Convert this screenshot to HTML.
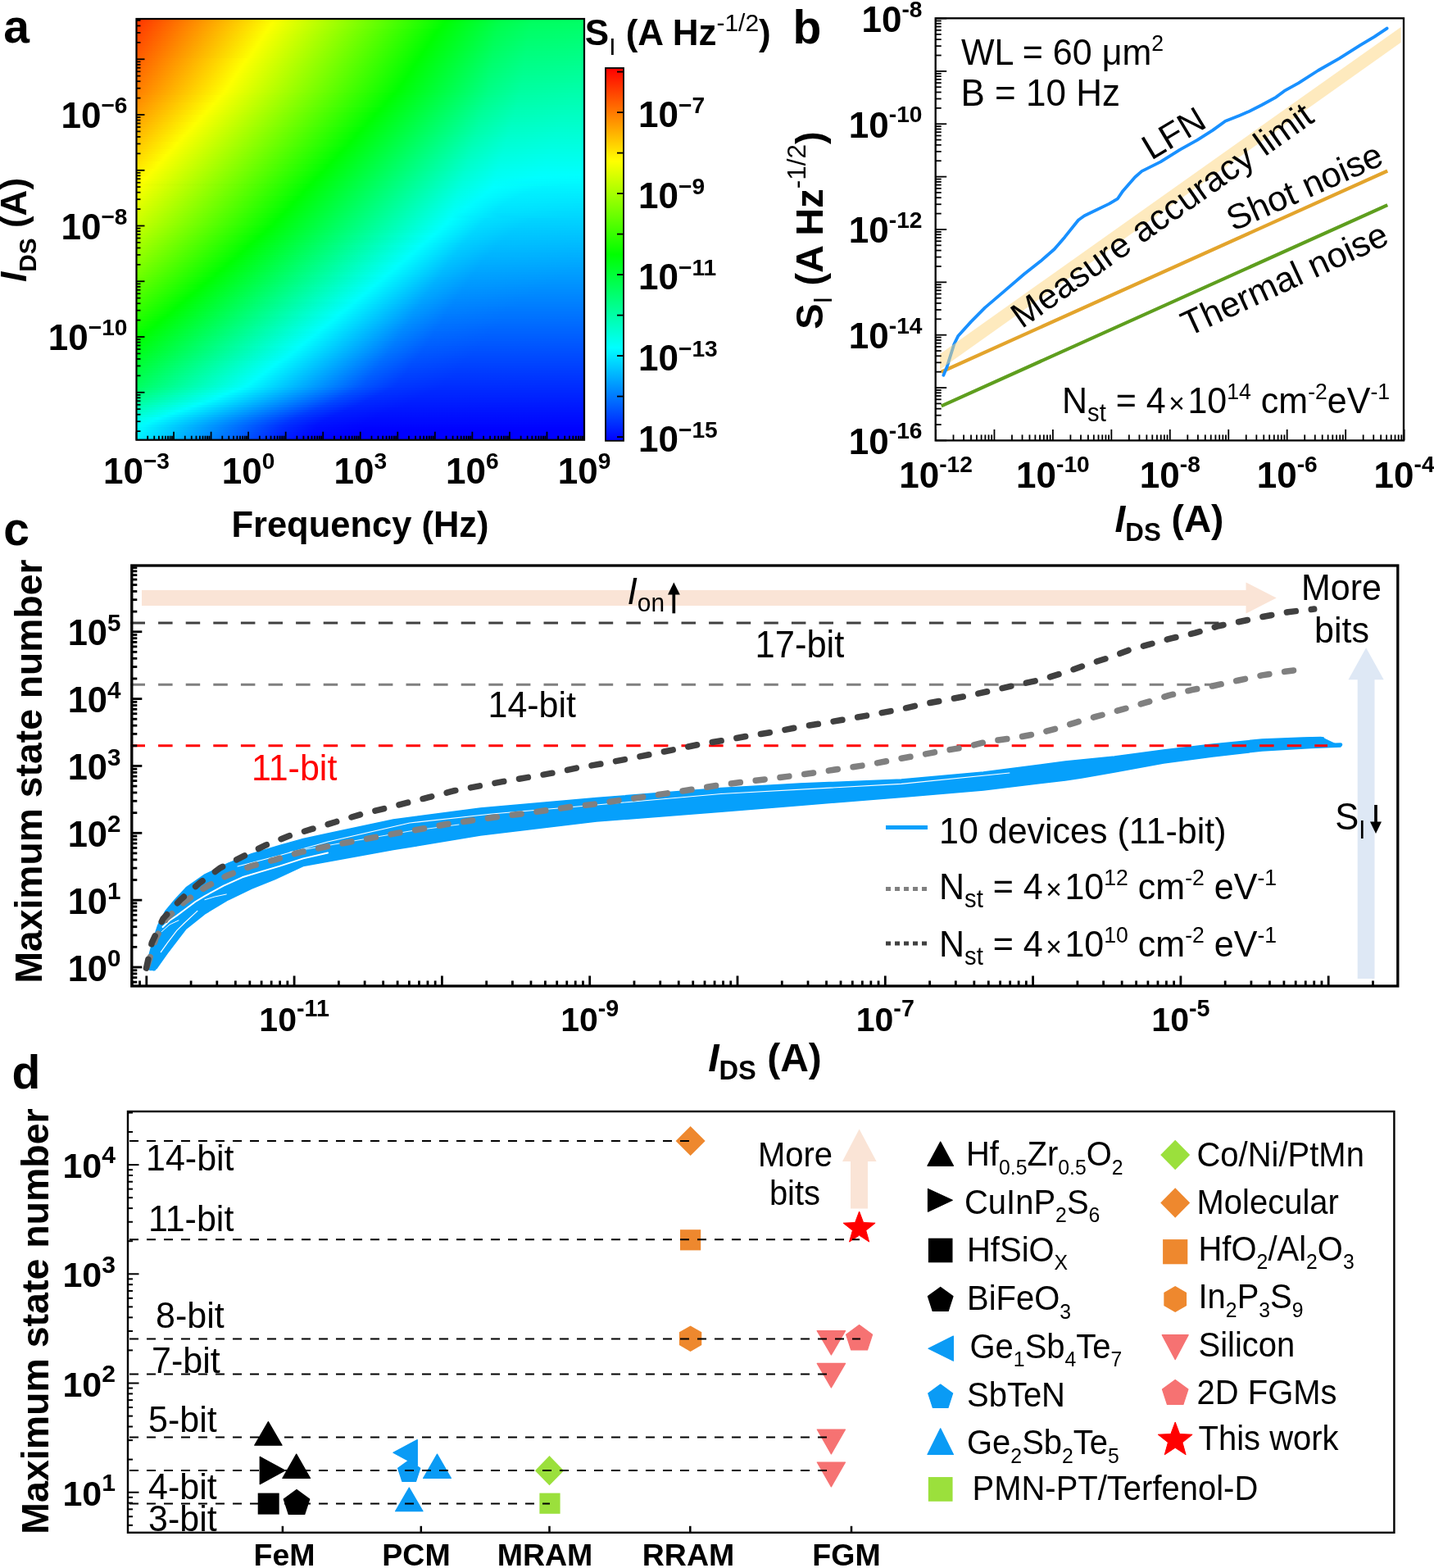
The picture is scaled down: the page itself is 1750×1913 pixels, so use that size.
<!DOCTYPE html><html><head><meta charset="utf-8"><title>Figure</title><style>html,body{margin:0;padding:0;background:#fff;}svg{display:block;}</style></head><body><svg width="1750" height="1913" viewBox="0 0 1750 1913" font-family='"Liberation Sans", Arial, Helvetica, sans-serif'><defs><linearGradient id="h0"><stop offset="0" stop-color="#ff3400"/><stop offset="0.307" stop-color="#fdff00"/><stop offset="0.692" stop-color="#00ff03"/><stop offset="0.809" stop-color="#00ff48"/><stop offset="0.882" stop-color="#00ff5d"/><stop offset="1" stop-color="#00ff63"/></linearGradient><linearGradient id="h1"><stop offset="0" stop-color="#ff3700"/><stop offset="0.304" stop-color="#fdff00"/><stop offset="0.688" stop-color="#00ff03"/><stop offset="0.809" stop-color="#00ff4a"/><stop offset="0.882" stop-color="#00ff60"/><stop offset="1" stop-color="#00ff66"/></linearGradient><linearGradient id="h2"><stop offset="0" stop-color="#ff3900"/><stop offset="0.3" stop-color="#fdff00"/><stop offset="0.684" stop-color="#00ff03"/><stop offset="0.805" stop-color="#00ff4b"/><stop offset="0.878" stop-color="#00ff62"/><stop offset="1" stop-color="#00ff68"/></linearGradient><linearGradient id="h3"><stop offset="0" stop-color="#ff3c00"/><stop offset="0.296" stop-color="#fdff00"/><stop offset="0.681" stop-color="#00ff03"/><stop offset="0.805" stop-color="#00ff4e"/><stop offset="0.878" stop-color="#00ff64"/><stop offset="1" stop-color="#00ff6a"/></linearGradient><linearGradient id="h4"><stop offset="0" stop-color="#ff3e00"/><stop offset="0.293" stop-color="#fdff00"/><stop offset="0.673" stop-color="#00ff01"/><stop offset="0.805" stop-color="#00ff50"/><stop offset="0.878" stop-color="#00ff67"/><stop offset="1" stop-color="#00ff6d"/></linearGradient><linearGradient id="h5"><stop offset="0" stop-color="#ff4100"/><stop offset="0.289" stop-color="#fdff00"/><stop offset="0.67" stop-color="#00ff01"/><stop offset="0.801" stop-color="#00ff51"/><stop offset="0.875" stop-color="#00ff69"/><stop offset="1" stop-color="#00ff6f"/></linearGradient><linearGradient id="h6"><stop offset="0" stop-color="#ff4300"/><stop offset="0.285" stop-color="#fcff00"/><stop offset="0.666" stop-color="#00ff01"/><stop offset="0.801" stop-color="#00ff53"/><stop offset="0.875" stop-color="#00ff6b"/><stop offset="1" stop-color="#00ff72"/></linearGradient><linearGradient id="h7"><stop offset="0" stop-color="#ff4600"/><stop offset="0.282" stop-color="#fcff00"/><stop offset="0.662" stop-color="#00ff01"/><stop offset="0.801" stop-color="#00ff56"/><stop offset="0.875" stop-color="#00ff6d"/><stop offset="1" stop-color="#00ff74"/></linearGradient><linearGradient id="h8"><stop offset="0" stop-color="#ff4800"/><stop offset="0.278" stop-color="#fcff00"/><stop offset="0.659" stop-color="#00ff01"/><stop offset="0.801" stop-color="#00ff58"/><stop offset="0.875" stop-color="#00ff70"/><stop offset="1" stop-color="#00ff77"/></linearGradient><linearGradient id="h9"><stop offset="0" stop-color="#ff4b00"/><stop offset="0.274" stop-color="#fcff00"/><stop offset="0.655" stop-color="#00ff01"/><stop offset="0.798" stop-color="#00ff59"/><stop offset="0.871" stop-color="#00ff72"/><stop offset="1" stop-color="#00ff79"/></linearGradient><linearGradient id="h10"><stop offset="0" stop-color="#ff4d00"/><stop offset="0.271" stop-color="#fcff00"/><stop offset="0.651" stop-color="#00ff01"/><stop offset="0.798" stop-color="#00ff5b"/><stop offset="0.871" stop-color="#00ff74"/><stop offset="1" stop-color="#00ff7c"/></linearGradient><linearGradient id="h11"><stop offset="0" stop-color="#ff5000"/><stop offset="0.267" stop-color="#fcff00"/><stop offset="0.648" stop-color="#00ff01"/><stop offset="0.798" stop-color="#00ff5e"/><stop offset="0.871" stop-color="#00ff77"/><stop offset="1" stop-color="#00ff7e"/></linearGradient><linearGradient id="h12"><stop offset="0" stop-color="#ff5200"/><stop offset="0.263" stop-color="#fcff00"/><stop offset="0.644" stop-color="#00ff01"/><stop offset="0.798" stop-color="#00ff60"/><stop offset="0.871" stop-color="#00ff79"/><stop offset="1" stop-color="#00ff81"/></linearGradient><linearGradient id="h13"><stop offset="0" stop-color="#ff5500"/><stop offset="0.26" stop-color="#fcff00"/><stop offset="0.64" stop-color="#00ff01"/><stop offset="0.798" stop-color="#00ff63"/><stop offset="0.871" stop-color="#00ff7c"/><stop offset="1" stop-color="#00ff83"/></linearGradient><linearGradient id="h14"><stop offset="0" stop-color="#ff5700"/><stop offset="0.256" stop-color="#fcff00"/><stop offset="0.637" stop-color="#00ff01"/><stop offset="0.794" stop-color="#00ff64"/><stop offset="0.867" stop-color="#00ff7d"/><stop offset="1" stop-color="#00ff85"/></linearGradient><linearGradient id="h15"><stop offset="0" stop-color="#ff5a00"/><stop offset="0.253" stop-color="#fcff00"/><stop offset="0.633" stop-color="#00ff01"/><stop offset="0.794" stop-color="#00ff66"/><stop offset="0.867" stop-color="#00ff80"/><stop offset="1" stop-color="#00ff88"/></linearGradient><linearGradient id="h16"><stop offset="0" stop-color="#ff5c00"/><stop offset="0.245" stop-color="#feff00"/><stop offset="0.629" stop-color="#00ff01"/><stop offset="0.794" stop-color="#00ff69"/><stop offset="0.867" stop-color="#00ff82"/><stop offset="1" stop-color="#00ff8a"/></linearGradient><linearGradient id="h17"><stop offset="0" stop-color="#ff5f00"/><stop offset="0.242" stop-color="#feff00"/><stop offset="0.626" stop-color="#00ff02"/><stop offset="0.794" stop-color="#00ff6b"/><stop offset="0.867" stop-color="#00ff85"/><stop offset="1" stop-color="#00ff8d"/></linearGradient><linearGradient id="h18"><stop offset="0" stop-color="#ff6100"/><stop offset="0.238" stop-color="#feff00"/><stop offset="0.622" stop-color="#00ff02"/><stop offset="0.794" stop-color="#00ff6e"/><stop offset="0.867" stop-color="#00ff87"/><stop offset="1" stop-color="#00ff8f"/></linearGradient><linearGradient id="h19"><stop offset="0" stop-color="#ff6400"/><stop offset="0.234" stop-color="#feff00"/><stop offset="0.618" stop-color="#00ff02"/><stop offset="0.79" stop-color="#00ff6e"/><stop offset="0.864" stop-color="#00ff89"/><stop offset="0.988" stop-color="#00ff92"/><stop offset="1" stop-color="#00ff92"/></linearGradient><linearGradient id="h20"><stop offset="0" stop-color="#ff6600"/><stop offset="0.231" stop-color="#feff00"/><stop offset="0.615" stop-color="#00ff02"/><stop offset="0.79" stop-color="#00ff71"/><stop offset="0.864" stop-color="#00ff8b"/><stop offset="0.988" stop-color="#00ff94"/><stop offset="1" stop-color="#00ff94"/></linearGradient><linearGradient id="h21"><stop offset="0" stop-color="#ff6900"/><stop offset="0.227" stop-color="#feff00"/><stop offset="0.611" stop-color="#00ff02"/><stop offset="0.79" stop-color="#00ff73"/><stop offset="0.864" stop-color="#00ff8e"/><stop offset="0.988" stop-color="#00ff97"/><stop offset="1" stop-color="#00ff97"/></linearGradient><linearGradient id="h22"><stop offset="0" stop-color="#ff6b00"/><stop offset="0.223" stop-color="#feff00"/><stop offset="0.608" stop-color="#00ff02"/><stop offset="0.79" stop-color="#00ff76"/><stop offset="0.864" stop-color="#00ff90"/><stop offset="0.988" stop-color="#00ff99"/><stop offset="1" stop-color="#00ff99"/></linearGradient><linearGradient id="h23"><stop offset="0" stop-color="#ff6e00"/><stop offset="0.22" stop-color="#feff00"/><stop offset="0.604" stop-color="#00ff02"/><stop offset="0.79" stop-color="#00ff78"/><stop offset="0.864" stop-color="#00ff93"/><stop offset="0.988" stop-color="#00ff9c"/><stop offset="1" stop-color="#00ff9c"/></linearGradient><linearGradient id="h24"><stop offset="0" stop-color="#ff7000"/><stop offset="0.216" stop-color="#feff00"/><stop offset="0.6" stop-color="#00ff02"/><stop offset="0.79" stop-color="#00ff7b"/><stop offset="0.864" stop-color="#00ff95"/><stop offset="0.988" stop-color="#00ff9e"/><stop offset="1" stop-color="#00ff9e"/></linearGradient><linearGradient id="h25"><stop offset="0" stop-color="#ff7300"/><stop offset="0.212" stop-color="#feff00"/><stop offset="0.597" stop-color="#00ff02"/><stop offset="0.79" stop-color="#00ff7d"/><stop offset="0.864" stop-color="#00ff98"/><stop offset="0.988" stop-color="#00ffa0"/><stop offset="1" stop-color="#00ffa1"/></linearGradient><linearGradient id="h26"><stop offset="0" stop-color="#ff7500"/><stop offset="0.209" stop-color="#feff00"/><stop offset="0.593" stop-color="#00ff02"/><stop offset="0.787" stop-color="#00ff7e"/><stop offset="0.86" stop-color="#00ff9a"/><stop offset="0.977" stop-color="#00ffa3"/><stop offset="1" stop-color="#00ffa3"/></linearGradient><linearGradient id="h27"><stop offset="0" stop-color="#ff7800"/><stop offset="0.205" stop-color="#feff00"/><stop offset="0.589" stop-color="#00ff02"/><stop offset="0.787" stop-color="#00ff80"/><stop offset="0.86" stop-color="#00ff9c"/><stop offset="0.977" stop-color="#00ffa5"/><stop offset="1" stop-color="#00ffa5"/></linearGradient><linearGradient id="h28"><stop offset="0" stop-color="#ff7a00"/><stop offset="0.201" stop-color="#feff00"/><stop offset="0.586" stop-color="#00ff02"/><stop offset="0.787" stop-color="#00ff83"/><stop offset="0.86" stop-color="#00ff9e"/><stop offset="0.977" stop-color="#00ffa8"/><stop offset="1" stop-color="#00ffa8"/></linearGradient><linearGradient id="h29"><stop offset="0" stop-color="#ff7d00"/><stop offset="0.198" stop-color="#feff00"/><stop offset="0.582" stop-color="#00ff02"/><stop offset="0.787" stop-color="#00ff85"/><stop offset="0.86" stop-color="#00ffa1"/><stop offset="0.977" stop-color="#00ffaa"/><stop offset="1" stop-color="#00ffaa"/></linearGradient><linearGradient id="h30"><stop offset="0" stop-color="#ff8000"/><stop offset="0.194" stop-color="#fdff00"/><stop offset="0.575" stop-color="#00ff01"/><stop offset="0.783" stop-color="#00ff86"/><stop offset="0.856" stop-color="#00ffa3"/><stop offset="0.97" stop-color="#00ffad"/><stop offset="1" stop-color="#00ffad"/></linearGradient><linearGradient id="h31"><stop offset="0" stop-color="#ff8400"/><stop offset="0.187" stop-color="#feff00"/><stop offset="0.571" stop-color="#00ff02"/><stop offset="0.783" stop-color="#00ff89"/><stop offset="0.856" stop-color="#00ffa6"/><stop offset="0.973" stop-color="#00ffaf"/><stop offset="1" stop-color="#00ffaf"/></linearGradient><linearGradient id="h32"><stop offset="0" stop-color="#ff8700"/><stop offset="0.183" stop-color="#fdff00"/><stop offset="0.567" stop-color="#00ff03"/><stop offset="0.783" stop-color="#00ff8d"/><stop offset="0.856" stop-color="#00ffa8"/><stop offset="0.973" stop-color="#00ffb2"/><stop offset="1" stop-color="#00ffb2"/></linearGradient><linearGradient id="h33"><stop offset="0" stop-color="#ff8a00"/><stop offset="0.179" stop-color="#fcff00"/><stop offset="0.56" stop-color="#00ff01"/><stop offset="0.78" stop-color="#00ff8e"/><stop offset="0.853" stop-color="#00ffaa"/><stop offset="0.966" stop-color="#00ffb4"/><stop offset="1" stop-color="#00ffb4"/></linearGradient><linearGradient id="h34"><stop offset="0" stop-color="#ff8e00"/><stop offset="0.172" stop-color="#feff00"/><stop offset="0.556" stop-color="#00ff02"/><stop offset="0.78" stop-color="#00ff91"/><stop offset="0.853" stop-color="#00ffad"/><stop offset="0.97" stop-color="#00ffb6"/><stop offset="1" stop-color="#00ffb7"/></linearGradient><linearGradient id="h35"><stop offset="0" stop-color="#ff9100"/><stop offset="0.168" stop-color="#fdff00"/><stop offset="0.553" stop-color="#00ff03"/><stop offset="0.776" stop-color="#00ff92"/><stop offset="0.849" stop-color="#00ffaf"/><stop offset="0.962" stop-color="#00ffb9"/><stop offset="1" stop-color="#00ffb9"/></linearGradient><linearGradient id="h36"><stop offset="0" stop-color="#ff9400"/><stop offset="0.165" stop-color="#fcff00"/><stop offset="0.545" stop-color="#00ff01"/><stop offset="0.776" stop-color="#00ff95"/><stop offset="0.849" stop-color="#00ffb2"/><stop offset="0.962" stop-color="#00ffbb"/><stop offset="1" stop-color="#00ffbc"/></linearGradient><linearGradient id="h37"><stop offset="0" stop-color="#ff9800"/><stop offset="0.157" stop-color="#feff00"/><stop offset="0.542" stop-color="#00ff02"/><stop offset="0.772" stop-color="#00ff97"/><stop offset="0.845" stop-color="#00ffb4"/><stop offset="0.955" stop-color="#00ffbe"/><stop offset="1" stop-color="#00ffbe"/></linearGradient><linearGradient id="h38"><stop offset="0" stop-color="#ff9b00"/><stop offset="0.154" stop-color="#fdff00"/><stop offset="0.534" stop-color="#00ff01"/><stop offset="0.772" stop-color="#00ff9a"/><stop offset="0.845" stop-color="#00ffb6"/><stop offset="0.959" stop-color="#00ffc0"/><stop offset="1" stop-color="#00ffc1"/></linearGradient><linearGradient id="h39"><stop offset="0" stop-color="#ff9e00"/><stop offset="0.146" stop-color="#feff00"/><stop offset="0.531" stop-color="#00ff02"/><stop offset="0.769" stop-color="#00ff9b"/><stop offset="0.842" stop-color="#00ffb8"/><stop offset="0.952" stop-color="#00ffc3"/><stop offset="1" stop-color="#00ffc3"/></linearGradient><linearGradient id="h40"><stop offset="0" stop-color="#ffa200"/><stop offset="0.143" stop-color="#fdff00"/><stop offset="0.527" stop-color="#00ff03"/><stop offset="0.769" stop-color="#00ff9e"/><stop offset="0.842" stop-color="#00ffbb"/><stop offset="0.952" stop-color="#00ffc5"/><stop offset="1" stop-color="#00ffc5"/></linearGradient><linearGradient id="h41"><stop offset="0" stop-color="#ffa500"/><stop offset="0.139" stop-color="#fcff00"/><stop offset="0.52" stop-color="#00ff01"/><stop offset="0.765" stop-color="#00ffa0"/><stop offset="0.838" stop-color="#00ffbd"/><stop offset="0.944" stop-color="#00ffc7"/><stop offset="1" stop-color="#00ffc8"/></linearGradient><linearGradient id="h42"><stop offset="0" stop-color="#ffa800"/><stop offset="0.132" stop-color="#feff00"/><stop offset="0.516" stop-color="#00ff02"/><stop offset="0.765" stop-color="#00ffa3"/><stop offset="0.838" stop-color="#00ffc0"/><stop offset="0.948" stop-color="#00ffca"/><stop offset="1" stop-color="#00ffca"/></linearGradient><linearGradient id="h43"><stop offset="0" stop-color="#ffac00"/><stop offset="0.128" stop-color="#fdff00"/><stop offset="0.512" stop-color="#00ff03"/><stop offset="0.765" stop-color="#00ffa6"/><stop offset="0.838" stop-color="#00ffc3"/><stop offset="0.948" stop-color="#00ffcc"/><stop offset="1" stop-color="#00ffcd"/></linearGradient><linearGradient id="h44"><stop offset="0" stop-color="#ffaf00"/><stop offset="0.124" stop-color="#fcff00"/><stop offset="0.505" stop-color="#00ff01"/><stop offset="0.761" stop-color="#00ffa7"/><stop offset="0.834" stop-color="#00ffc5"/><stop offset="0.941" stop-color="#00ffcf"/><stop offset="1" stop-color="#00ffcf"/></linearGradient><linearGradient id="h45"><stop offset="0" stop-color="#ffb300"/><stop offset="0.117" stop-color="#fdff00"/><stop offset="0.501" stop-color="#00ff02"/><stop offset="0.761" stop-color="#00ffaa"/><stop offset="0.834" stop-color="#00ffc7"/><stop offset="0.944" stop-color="#00ffd1"/><stop offset="1" stop-color="#00ffd2"/></linearGradient><linearGradient id="h46"><stop offset="0" stop-color="#ffb600"/><stop offset="0.113" stop-color="#fdff00"/><stop offset="0.494" stop-color="#00ff01"/><stop offset="0.758" stop-color="#00ffab"/><stop offset="0.831" stop-color="#00ffc9"/><stop offset="0.937" stop-color="#00ffd4"/><stop offset="1" stop-color="#00ffd4"/></linearGradient><linearGradient id="h47"><stop offset="0" stop-color="#ffb900"/><stop offset="0.106" stop-color="#feff00"/><stop offset="0.49" stop-color="#00ff02"/><stop offset="0.758" stop-color="#00ffaf"/><stop offset="0.831" stop-color="#00ffcc"/><stop offset="0.937" stop-color="#00ffd6"/><stop offset="1" stop-color="#00ffd7"/></linearGradient><linearGradient id="h48"><stop offset="0" stop-color="#ffbd00"/><stop offset="0.102" stop-color="#fdff00"/><stop offset="0.487" stop-color="#00ff03"/><stop offset="0.754" stop-color="#00ffb0"/><stop offset="0.827" stop-color="#00ffce"/><stop offset="0.93" stop-color="#00ffd8"/><stop offset="1" stop-color="#00ffd9"/></linearGradient><linearGradient id="h49"><stop offset="0" stop-color="#ffc000"/><stop offset="0.099" stop-color="#fcff00"/><stop offset="0.479" stop-color="#00ff01"/><stop offset="0.754" stop-color="#00ffb3"/><stop offset="0.827" stop-color="#00ffd1"/><stop offset="0.933" stop-color="#00ffdb"/><stop offset="1" stop-color="#00ffdc"/></linearGradient><linearGradient id="h50"><stop offset="0" stop-color="#ffc300"/><stop offset="0.091" stop-color="#feff00"/><stop offset="0.476" stop-color="#00ff02"/><stop offset="0.75" stop-color="#00ffb4"/><stop offset="0.823" stop-color="#00ffd3"/><stop offset="0.926" stop-color="#00ffdd"/><stop offset="1" stop-color="#00ffde"/></linearGradient><linearGradient id="h51"><stop offset="0" stop-color="#ffc700"/><stop offset="0.088" stop-color="#fdff00"/><stop offset="0.472" stop-color="#00ff03"/><stop offset="0.75" stop-color="#00ffb7"/><stop offset="0.823" stop-color="#00ffd5"/><stop offset="0.93" stop-color="#00ffe0"/><stop offset="1" stop-color="#00ffe1"/></linearGradient><linearGradient id="h52"><stop offset="0" stop-color="#ffca00"/><stop offset="0.084" stop-color="#fcff00"/><stop offset="0.465" stop-color="#00ff02"/><stop offset="0.75" stop-color="#00ffbb"/><stop offset="0.823" stop-color="#00ffd8"/><stop offset="0.93" stop-color="#00ffe2"/><stop offset="1" stop-color="#00ffe3"/></linearGradient><linearGradient id="h53"><stop offset="0" stop-color="#ffcd00"/><stop offset="0.077" stop-color="#fdff00"/><stop offset="0.461" stop-color="#00ff02"/><stop offset="0.747" stop-color="#00ffbc"/><stop offset="0.82" stop-color="#00ffda"/><stop offset="0.922" stop-color="#00ffe5"/><stop offset="1" stop-color="#00ffe5"/></linearGradient><linearGradient id="h54"><stop offset="0" stop-color="#ffd100"/><stop offset="0.073" stop-color="#fdff00"/><stop offset="0.454" stop-color="#00ff01"/><stop offset="0.747" stop-color="#00ffbf"/><stop offset="0.82" stop-color="#00ffdd"/><stop offset="0.926" stop-color="#00ffe7"/><stop offset="1" stop-color="#00ffe8"/></linearGradient><linearGradient id="h55"><stop offset="0" stop-color="#ffd400"/><stop offset="0.066" stop-color="#feff00"/><stop offset="0.45" stop-color="#00ff02"/><stop offset="0.743" stop-color="#00ffc0"/><stop offset="0.816" stop-color="#00ffdf"/><stop offset="0.919" stop-color="#00ffea"/><stop offset="1" stop-color="#00ffea"/></linearGradient><linearGradient id="h56"><stop offset="0" stop-color="#ffd700"/><stop offset="0.062" stop-color="#fdff00"/><stop offset="0.446" stop-color="#00ff03"/><stop offset="0.743" stop-color="#00ffc3"/><stop offset="0.816" stop-color="#00ffe2"/><stop offset="0.919" stop-color="#00ffec"/><stop offset="1" stop-color="#00ffed"/></linearGradient><linearGradient id="h57"><stop offset="0" stop-color="#ffdb00"/><stop offset="0.059" stop-color="#fcff00"/><stop offset="0.439" stop-color="#00ff01"/><stop offset="0.739" stop-color="#00ffc5"/><stop offset="0.812" stop-color="#00ffe3"/><stop offset="0.911" stop-color="#00ffee"/><stop offset="1" stop-color="#00ffef"/></linearGradient><linearGradient id="h58"><stop offset="0" stop-color="#ffde00"/><stop offset="0.051" stop-color="#feff00"/><stop offset="0.435" stop-color="#00ff02"/><stop offset="0.739" stop-color="#00ffc8"/><stop offset="0.812" stop-color="#00ffe6"/><stop offset="0.915" stop-color="#00fff1"/><stop offset="1" stop-color="#00fff2"/></linearGradient><linearGradient id="h59"><stop offset="0" stop-color="#ffe200"/><stop offset="0.048" stop-color="#fdff00"/><stop offset="0.428" stop-color="#00ff01"/><stop offset="0.739" stop-color="#00ffcb"/><stop offset="0.812" stop-color="#00ffe9"/><stop offset="0.915" stop-color="#00fff3"/><stop offset="1" stop-color="#00fff4"/></linearGradient><linearGradient id="h60"><stop offset="0" stop-color="#ffe500"/><stop offset="0.044" stop-color="#fcff00"/><stop offset="0.425" stop-color="#00ff02"/><stop offset="0.736" stop-color="#00ffcc"/><stop offset="0.809" stop-color="#00ffeb"/><stop offset="0.908" stop-color="#00fff6"/><stop offset="1" stop-color="#00fff7"/></linearGradient><linearGradient id="h61"><stop offset="0" stop-color="#ffe800"/><stop offset="0.037" stop-color="#fdff00"/><stop offset="0.421" stop-color="#00ff03"/><stop offset="0.736" stop-color="#00ffcf"/><stop offset="0.809" stop-color="#00ffee"/><stop offset="0.911" stop-color="#00fff8"/><stop offset="1" stop-color="#00fff9"/></linearGradient><linearGradient id="h62"><stop offset="0" stop-color="#ffec00"/><stop offset="0.033" stop-color="#fcff00"/><stop offset="0.414" stop-color="#00ff01"/><stop offset="0.732" stop-color="#00ffd1"/><stop offset="0.805" stop-color="#00fff0"/><stop offset="0.904" stop-color="#00fffb"/><stop offset="1" stop-color="#00fffc"/></linearGradient><linearGradient id="h63"><stop offset="0" stop-color="#ffef00"/><stop offset="0.029" stop-color="#fbff00"/><stop offset="0.41" stop-color="#00ff02"/><stop offset="0.732" stop-color="#00ffd4"/><stop offset="0.805" stop-color="#00fff2"/><stop offset="0.908" stop-color="#00fffd"/><stop offset="1" stop-color="#00fffe"/></linearGradient><linearGradient id="h64"><stop offset="0" stop-color="#fff300"/><stop offset="0.022" stop-color="#fdff00"/><stop offset="0.403" stop-color="#00ff01"/><stop offset="0.728" stop-color="#00ffd5"/><stop offset="0.801" stop-color="#00fff4"/><stop offset="0.893" stop-color="#00ffff"/><stop offset="1" stop-color="#00fdff"/></linearGradient><linearGradient id="h65"><stop offset="0" stop-color="#fff600"/><stop offset="0.018" stop-color="#fcff00"/><stop offset="0.399" stop-color="#00ff02"/><stop offset="0.728" stop-color="#00ffd8"/><stop offset="0.801" stop-color="#00fff7"/><stop offset="0.871" stop-color="#00fdff"/><stop offset="1" stop-color="#00fbff"/></linearGradient><linearGradient id="h66"><stop offset="0" stop-color="#fff900"/><stop offset="0.018" stop-color="#f8ff00"/><stop offset="0.395" stop-color="#00ff03"/><stop offset="0.728" stop-color="#00ffdc"/><stop offset="0.801" stop-color="#00fffa"/><stop offset="0.864" stop-color="#00fbff"/><stop offset="1" stop-color="#00f9ff"/></linearGradient><linearGradient id="h67"><stop offset="0" stop-color="#fffd00"/><stop offset="0.388" stop-color="#00ff01"/><stop offset="0.725" stop-color="#00ffdd"/><stop offset="0.798" stop-color="#00fffc"/><stop offset="0.959" stop-color="#00f6ff"/><stop offset="1" stop-color="#00f6ff"/></linearGradient><linearGradient id="h68"><stop offset="0" stop-color="#feff00"/><stop offset="0.384" stop-color="#00ff02"/><stop offset="0.725" stop-color="#00ffe0"/><stop offset="0.798" stop-color="#00ffff"/><stop offset="0.904" stop-color="#00f4ff"/><stop offset="1" stop-color="#00f4ff"/></linearGradient><linearGradient id="h69"><stop offset="0" stop-color="#faff00"/><stop offset="0.377" stop-color="#00ff01"/><stop offset="0.721" stop-color="#00ffe2"/><stop offset="0.79" stop-color="#00feff"/><stop offset="0.886" stop-color="#00f2ff"/><stop offset="1" stop-color="#00f1ff"/></linearGradient><linearGradient id="h70"><stop offset="0" stop-color="#f7ff00"/><stop offset="0.373" stop-color="#00ff02"/><stop offset="0.721" stop-color="#00ffe5"/><stop offset="0.783" stop-color="#00feff"/><stop offset="0.871" stop-color="#00f0ff"/><stop offset="1" stop-color="#00efff"/></linearGradient><linearGradient id="h71"><stop offset="0" stop-color="#f3ff00"/><stop offset="0.37" stop-color="#00ff03"/><stop offset="0.717" stop-color="#00ffe6"/><stop offset="0.776" stop-color="#00fdff"/><stop offset="0.86" stop-color="#00eeff"/><stop offset="1" stop-color="#00ecff"/></linearGradient><linearGradient id="h72"><stop offset="0" stop-color="#f0ff00"/><stop offset="0.362" stop-color="#00ff01"/><stop offset="0.717" stop-color="#00ffe9"/><stop offset="0.769" stop-color="#00fdff"/><stop offset="0.849" stop-color="#00edff"/><stop offset="1" stop-color="#00eaff"/></linearGradient><linearGradient id="h73"><stop offset="0" stop-color="#ecff00"/><stop offset="0.359" stop-color="#00ff02"/><stop offset="0.714" stop-color="#00ffeb"/><stop offset="0.761" stop-color="#00fcff"/><stop offset="0.838" stop-color="#00ebff"/><stop offset="1" stop-color="#00e7ff"/></linearGradient><linearGradient id="h74"><stop offset="0" stop-color="#e9ff00"/><stop offset="0.351" stop-color="#00ff01"/><stop offset="0.714" stop-color="#00ffee"/><stop offset="0.754" stop-color="#00fcff"/><stop offset="0.827" stop-color="#00eaff"/><stop offset="1" stop-color="#00e5ff"/></linearGradient><linearGradient id="h75"><stop offset="0" stop-color="#e6ff00"/><stop offset="0.348" stop-color="#00ff02"/><stop offset="0.71" stop-color="#00ffef"/><stop offset="0.747" stop-color="#00fcff"/><stop offset="0.82" stop-color="#00e8ff"/><stop offset="1" stop-color="#00e2ff"/></linearGradient><linearGradient id="h76"><stop offset="0" stop-color="#e2ff00"/><stop offset="0.344" stop-color="#00ff03"/><stop offset="0.71" stop-color="#00fff2"/><stop offset="0.739" stop-color="#00fdff"/><stop offset="0.812" stop-color="#00e6ff"/><stop offset="0.999" stop-color="#00e0ff"/><stop offset="1" stop-color="#00e0ff"/></linearGradient><linearGradient id="h77"><stop offset="0" stop-color="#dfff00"/><stop offset="0.337" stop-color="#00ff01"/><stop offset="0.71" stop-color="#00fff6"/><stop offset="0.736" stop-color="#00fbff"/><stop offset="0.809" stop-color="#00e4ff"/><stop offset="0.981" stop-color="#00deff"/><stop offset="1" stop-color="#00ddff"/></linearGradient><linearGradient id="h78"><stop offset="0" stop-color="#dbff00"/><stop offset="0.333" stop-color="#00ff02"/><stop offset="0.706" stop-color="#00fff7"/><stop offset="0.728" stop-color="#00fcff"/><stop offset="0.801" stop-color="#00e3ff"/><stop offset="0.948" stop-color="#00dbff"/><stop offset="1" stop-color="#00dbff"/></linearGradient><linearGradient id="h79"><stop offset="0" stop-color="#d8ff00"/><stop offset="0.326" stop-color="#00ff01"/><stop offset="0.706" stop-color="#00fffa"/><stop offset="0.732" stop-color="#00f7ff"/><stop offset="0.805" stop-color="#00dfff"/><stop offset="0.973" stop-color="#00d9ff"/><stop offset="1" stop-color="#00d9ff"/></linearGradient><linearGradient id="h80"><stop offset="0" stop-color="#d4ff00"/><stop offset="0.322" stop-color="#00ff02"/><stop offset="0.703" stop-color="#00fffb"/><stop offset="0.743" stop-color="#00efff"/><stop offset="0.816" stop-color="#00dbff"/><stop offset="1" stop-color="#00d6ff"/></linearGradient><linearGradient id="h81"><stop offset="0" stop-color="#d1ff00"/><stop offset="0.315" stop-color="#00ff01"/><stop offset="0.703" stop-color="#00ffff"/><stop offset="0.78" stop-color="#00dfff"/><stop offset="0.882" stop-color="#00d4ff"/><stop offset="1" stop-color="#00d4ff"/></linearGradient><linearGradient id="h82"><stop offset="0" stop-color="#ceff00"/><stop offset="0.311" stop-color="#00ff02"/><stop offset="0.695" stop-color="#00fffe"/><stop offset="0.776" stop-color="#00ddff"/><stop offset="0.875" stop-color="#00d2ff"/><stop offset="1" stop-color="#00d1ff"/></linearGradient><linearGradient id="h83"><stop offset="0" stop-color="#caff00"/><stop offset="0.307" stop-color="#00ff03"/><stop offset="0.692" stop-color="#00ffff"/><stop offset="0.769" stop-color="#00dcff"/><stop offset="0.86" stop-color="#00d0ff"/><stop offset="1" stop-color="#00cfff"/></linearGradient><linearGradient id="h84"><stop offset="0" stop-color="#c6ff00"/><stop offset="0.3" stop-color="#00ff01"/><stop offset="0.684" stop-color="#00fffe"/><stop offset="0.765" stop-color="#00daff"/><stop offset="0.856" stop-color="#00ceff"/><stop offset="1" stop-color="#00ccff"/></linearGradient><linearGradient id="h85"><stop offset="0" stop-color="#c2ff00"/><stop offset="0.293" stop-color="#00ff01"/><stop offset="0.681" stop-color="#00feff"/><stop offset="0.761" stop-color="#00d8ff"/><stop offset="0.849" stop-color="#00cbff"/><stop offset="1" stop-color="#00caff"/></linearGradient><linearGradient id="h86"><stop offset="0" stop-color="#beff00"/><stop offset="0.289" stop-color="#00ff03"/><stop offset="0.673" stop-color="#00feff"/><stop offset="0.754" stop-color="#00d7ff"/><stop offset="0.838" stop-color="#00c9ff"/><stop offset="1" stop-color="#00c7ff"/></linearGradient><linearGradient id="h87"><stop offset="0" stop-color="#baff00"/><stop offset="0.282" stop-color="#00ff02"/><stop offset="0.666" stop-color="#00ffff"/><stop offset="0.75" stop-color="#00d5ff"/><stop offset="0.834" stop-color="#00c7ff"/><stop offset="1" stop-color="#00c5ff"/></linearGradient><linearGradient id="h88"><stop offset="0" stop-color="#b6ff00"/><stop offset="0.274" stop-color="#00ff01"/><stop offset="0.659" stop-color="#00ffff"/><stop offset="0.743" stop-color="#00d4ff"/><stop offset="0.823" stop-color="#00c5ff"/><stop offset="1" stop-color="#00c2ff"/></linearGradient><linearGradient id="h89"><stop offset="0" stop-color="#b1ff00"/><stop offset="0.271" stop-color="#00ff03"/><stop offset="0.655" stop-color="#00fdff"/><stop offset="0.739" stop-color="#00d2ff"/><stop offset="0.82" stop-color="#00c3ff"/><stop offset="1" stop-color="#00c0ff"/></linearGradient><linearGradient id="h90"><stop offset="0" stop-color="#adff00"/><stop offset="0.263" stop-color="#00ff02"/><stop offset="0.648" stop-color="#00feff"/><stop offset="0.736" stop-color="#00d0ff"/><stop offset="0.816" stop-color="#00c0ff"/><stop offset="1" stop-color="#00beff"/></linearGradient><linearGradient id="h91"><stop offset="0" stop-color="#a9ff00"/><stop offset="0.256" stop-color="#00ff02"/><stop offset="0.64" stop-color="#00feff"/><stop offset="0.728" stop-color="#00cfff"/><stop offset="0.805" stop-color="#00bfff"/><stop offset="1" stop-color="#00bbff"/></linearGradient><linearGradient id="h92"><stop offset="0" stop-color="#a5ff00"/><stop offset="0.249" stop-color="#00ff01"/><stop offset="0.633" stop-color="#00ffff"/><stop offset="0.725" stop-color="#00cdff"/><stop offset="0.801" stop-color="#00bcff"/><stop offset="1" stop-color="#00b9ff"/></linearGradient><linearGradient id="h93"><stop offset="0" stop-color="#a1ff00"/><stop offset="0.245" stop-color="#00ff03"/><stop offset="0.629" stop-color="#00fdff"/><stop offset="0.721" stop-color="#00cbff"/><stop offset="0.798" stop-color="#00baff"/><stop offset="1" stop-color="#00b6ff"/></linearGradient><linearGradient id="h94"><stop offset="0" stop-color="#9cff00"/><stop offset="0.238" stop-color="#00ff02"/><stop offset="0.622" stop-color="#00fdff"/><stop offset="0.717" stop-color="#00c9ff"/><stop offset="0.794" stop-color="#00b8ff"/><stop offset="1" stop-color="#00b4ff"/></linearGradient><linearGradient id="h95"><stop offset="0" stop-color="#98ff00"/><stop offset="0.231" stop-color="#00ff01"/><stop offset="0.615" stop-color="#00feff"/><stop offset="0.714" stop-color="#00c7ff"/><stop offset="0.79" stop-color="#00b5ff"/><stop offset="1" stop-color="#00b1ff"/></linearGradient><linearGradient id="h96"><stop offset="0" stop-color="#94ff00"/><stop offset="0.227" stop-color="#00ff03"/><stop offset="0.608" stop-color="#00feff"/><stop offset="0.706" stop-color="#00c7ff"/><stop offset="0.78" stop-color="#00b4ff"/><stop offset="1" stop-color="#00afff"/></linearGradient><linearGradient id="h97"><stop offset="0" stop-color="#90ff00"/><stop offset="0.22" stop-color="#00ff02"/><stop offset="0.604" stop-color="#00fdff"/><stop offset="0.706" stop-color="#00c3ff"/><stop offset="0.78" stop-color="#00b1ff"/><stop offset="1" stop-color="#00acff"/></linearGradient><linearGradient id="h98"><stop offset="0" stop-color="#8cff00"/><stop offset="0.212" stop-color="#00ff02"/><stop offset="0.597" stop-color="#00fdff"/><stop offset="0.699" stop-color="#00c3ff"/><stop offset="0.772" stop-color="#00afff"/><stop offset="1" stop-color="#00aaff"/></linearGradient><linearGradient id="h99"><stop offset="0" stop-color="#87ff00"/><stop offset="0.205" stop-color="#00ff01"/><stop offset="0.589" stop-color="#00feff"/><stop offset="0.695" stop-color="#00c1ff"/><stop offset="0.769" stop-color="#00adff"/><stop offset="1" stop-color="#00a7ff"/></linearGradient><linearGradient id="h100"><stop offset="0" stop-color="#83ff00"/><stop offset="0.201" stop-color="#00ff03"/><stop offset="0.582" stop-color="#00feff"/><stop offset="0.692" stop-color="#00bfff"/><stop offset="0.765" stop-color="#00aaff"/><stop offset="1" stop-color="#00a5ff"/></linearGradient><linearGradient id="h101"><stop offset="0" stop-color="#7fff00"/><stop offset="0.194" stop-color="#00ff02"/><stop offset="0.578" stop-color="#00fdff"/><stop offset="0.688" stop-color="#00bdff"/><stop offset="0.761" stop-color="#00a8ff"/><stop offset="0.988" stop-color="#00a2ff"/><stop offset="1" stop-color="#00a2ff"/></linearGradient><linearGradient id="h102"><stop offset="0" stop-color="#7bff00"/><stop offset="0.187" stop-color="#00ff01"/><stop offset="0.571" stop-color="#00fdff"/><stop offset="0.684" stop-color="#00bbff"/><stop offset="0.758" stop-color="#00a6ff"/><stop offset="0.977" stop-color="#00a0ff"/><stop offset="1" stop-color="#00a0ff"/></linearGradient><linearGradient id="h103"><stop offset="0" stop-color="#77ff00"/><stop offset="0.179" stop-color="#00ff01"/><stop offset="0.564" stop-color="#00feff"/><stop offset="0.681" stop-color="#00b9ff"/><stop offset="0.754" stop-color="#00a3ff"/><stop offset="0.966" stop-color="#009eff"/><stop offset="1" stop-color="#009eff"/></linearGradient><linearGradient id="h104"><stop offset="0" stop-color="#72ff00"/><stop offset="0.176" stop-color="#00ff03"/><stop offset="0.556" stop-color="#00feff"/><stop offset="0.677" stop-color="#00b7ff"/><stop offset="0.75" stop-color="#00a1ff"/><stop offset="0.955" stop-color="#009bff"/><stop offset="1" stop-color="#009bff"/></linearGradient><linearGradient id="h105"><stop offset="0" stop-color="#6eff00"/><stop offset="0.168" stop-color="#00ff02"/><stop offset="0.553" stop-color="#00fcff"/><stop offset="0.673" stop-color="#00b4ff"/><stop offset="0.747" stop-color="#009fff"/><stop offset="0.944" stop-color="#0099ff"/><stop offset="1" stop-color="#0099ff"/></linearGradient><linearGradient id="h106"><stop offset="0" stop-color="#69ff00"/><stop offset="0.161" stop-color="#00ff02"/><stop offset="0.545" stop-color="#00fdff"/><stop offset="0.67" stop-color="#00b2ff"/><stop offset="0.743" stop-color="#009cff"/><stop offset="0.937" stop-color="#0096ff"/><stop offset="1" stop-color="#0096ff"/></linearGradient><linearGradient id="h107"><stop offset="0" stop-color="#65ff00"/><stop offset="0.154" stop-color="#00ff01"/><stop offset="0.538" stop-color="#00fdff"/><stop offset="0.666" stop-color="#00b0ff"/><stop offset="0.739" stop-color="#009aff"/><stop offset="0.926" stop-color="#0094ff"/><stop offset="1" stop-color="#0094ff"/></linearGradient><linearGradient id="h108"><stop offset="0" stop-color="#61ff00"/><stop offset="0.146" stop-color="#00ff01"/><stop offset="0.531" stop-color="#00feff"/><stop offset="0.662" stop-color="#00aeff"/><stop offset="0.736" stop-color="#0098ff"/><stop offset="0.919" stop-color="#0091ff"/><stop offset="1" stop-color="#0091ff"/></linearGradient><linearGradient id="h109"><stop offset="0" stop-color="#5cff00"/><stop offset="0.143" stop-color="#00ff03"/><stop offset="0.523" stop-color="#00feff"/><stop offset="0.655" stop-color="#00aeff"/><stop offset="0.728" stop-color="#0096ff"/><stop offset="0.889" stop-color="#008fff"/><stop offset="1" stop-color="#008fff"/></linearGradient><linearGradient id="h110"><stop offset="0" stop-color="#58ff00"/><stop offset="0.135" stop-color="#00ff02"/><stop offset="0.52" stop-color="#00fcff"/><stop offset="0.655" stop-color="#00aaff"/><stop offset="0.728" stop-color="#0093ff"/><stop offset="0.9" stop-color="#008cff"/><stop offset="1" stop-color="#008cff"/></linearGradient><linearGradient id="h111"><stop offset="0" stop-color="#54ff00"/><stop offset="0.128" stop-color="#00ff02"/><stop offset="0.512" stop-color="#00fdff"/><stop offset="0.651" stop-color="#00a8ff"/><stop offset="0.725" stop-color="#0091ff"/><stop offset="0.893" stop-color="#008aff"/><stop offset="1" stop-color="#008aff"/></linearGradient><linearGradient id="h112"><stop offset="0" stop-color="#4fff00"/><stop offset="0.121" stop-color="#00ff01"/><stop offset="0.505" stop-color="#00fdff"/><stop offset="0.644" stop-color="#00a8ff"/><stop offset="0.717" stop-color="#008fff"/><stop offset="0.867" stop-color="#0088ff"/><stop offset="1" stop-color="#0087ff"/></linearGradient><linearGradient id="h113"><stop offset="0" stop-color="#4bff00"/><stop offset="0.113" stop-color="#00ff01"/><stop offset="0.498" stop-color="#00fdff"/><stop offset="0.64" stop-color="#00a6ff"/><stop offset="0.714" stop-color="#008dff"/><stop offset="0.86" stop-color="#0085ff"/><stop offset="1" stop-color="#0085ff"/></linearGradient><linearGradient id="h114"><stop offset="0" stop-color="#46ff00"/><stop offset="0.11" stop-color="#00ff03"/><stop offset="0.49" stop-color="#00feff"/><stop offset="0.637" stop-color="#00a3ff"/><stop offset="0.71" stop-color="#008aff"/><stop offset="0.853" stop-color="#0083ff"/><stop offset="1" stop-color="#0083ff"/></linearGradient><linearGradient id="h115"><stop offset="0" stop-color="#42ff00"/><stop offset="0.102" stop-color="#00ff02"/><stop offset="0.487" stop-color="#00fcff"/><stop offset="0.637" stop-color="#00a0ff"/><stop offset="0.71" stop-color="#0087ff"/><stop offset="0.864" stop-color="#0080ff"/><stop offset="1" stop-color="#0080ff"/></linearGradient><linearGradient id="h116"><stop offset="0" stop-color="#3eff00"/><stop offset="0.095" stop-color="#00ff02"/><stop offset="0.479" stop-color="#00fcff"/><stop offset="0.633" stop-color="#009dff"/><stop offset="0.706" stop-color="#0085ff"/><stop offset="0.856" stop-color="#007eff"/><stop offset="1" stop-color="#007eff"/></linearGradient><linearGradient id="h117"><stop offset="0" stop-color="#39ff00"/><stop offset="0.088" stop-color="#00ff01"/><stop offset="0.472" stop-color="#00fdff"/><stop offset="0.626" stop-color="#009dff"/><stop offset="0.699" stop-color="#0083ff"/><stop offset="0.834" stop-color="#007bff"/><stop offset="1" stop-color="#007bff"/></linearGradient><linearGradient id="h118"><stop offset="0" stop-color="#35ff00"/><stop offset="0.084" stop-color="#00ff03"/><stop offset="0.465" stop-color="#00fdff"/><stop offset="0.622" stop-color="#009bff"/><stop offset="0.695" stop-color="#0081ff"/><stop offset="0.827" stop-color="#0079ff"/><stop offset="1" stop-color="#0079ff"/></linearGradient><linearGradient id="h119"><stop offset="0" stop-color="#30ff00"/><stop offset="0.077" stop-color="#00ff03"/><stop offset="0.457" stop-color="#00feff"/><stop offset="0.618" stop-color="#0099ff"/><stop offset="0.692" stop-color="#007fff"/><stop offset="0.823" stop-color="#0076ff"/><stop offset="1" stop-color="#0076ff"/></linearGradient><linearGradient id="h120"><stop offset="0" stop-color="#2cff00"/><stop offset="0.07" stop-color="#00ff02"/><stop offset="0.45" stop-color="#00feff"/><stop offset="0.615" stop-color="#0097ff"/><stop offset="0.688" stop-color="#007cff"/><stop offset="0.816" stop-color="#0074ff"/><stop offset="1" stop-color="#0074ff"/></linearGradient><linearGradient id="h121"><stop offset="0" stop-color="#27ff00"/><stop offset="0.062" stop-color="#00ff02"/><stop offset="0.446" stop-color="#00fcff"/><stop offset="0.615" stop-color="#0093ff"/><stop offset="0.688" stop-color="#0079ff"/><stop offset="0.827" stop-color="#0072ff"/><stop offset="1" stop-color="#0071ff"/></linearGradient><linearGradient id="h122"><stop offset="0" stop-color="#23ff00"/><stop offset="0.055" stop-color="#00ff02"/><stop offset="0.439" stop-color="#00fdff"/><stop offset="0.611" stop-color="#0091ff"/><stop offset="0.684" stop-color="#0077ff"/><stop offset="0.82" stop-color="#006fff"/><stop offset="1" stop-color="#006fff"/></linearGradient><linearGradient id="h123"><stop offset="0" stop-color="#1eff00"/><stop offset="0.048" stop-color="#00ff01"/><stop offset="0.432" stop-color="#00fdff"/><stop offset="0.608" stop-color="#008fff"/><stop offset="0.681" stop-color="#0075ff"/><stop offset="0.816" stop-color="#006dff"/><stop offset="1" stop-color="#006cff"/></linearGradient><linearGradient id="h124"><stop offset="0" stop-color="#1aff00"/><stop offset="0.044" stop-color="#00ff03"/><stop offset="0.425" stop-color="#00fdff"/><stop offset="0.604" stop-color="#008cff"/><stop offset="0.677" stop-color="#0072ff"/><stop offset="0.809" stop-color="#006aff"/><stop offset="1" stop-color="#006aff"/></linearGradient><linearGradient id="h125"><stop offset="0" stop-color="#15ff00"/><stop offset="0.037" stop-color="#00ff03"/><stop offset="0.417" stop-color="#00feff"/><stop offset="0.597" stop-color="#008cff"/><stop offset="0.67" stop-color="#0071ff"/><stop offset="0.79" stop-color="#0068ff"/><stop offset="1" stop-color="#0067ff"/></linearGradient><linearGradient id="h126"><stop offset="0" stop-color="#11ff00"/><stop offset="0.029" stop-color="#00ff03"/><stop offset="0.41" stop-color="#00feff"/><stop offset="0.593" stop-color="#008aff"/><stop offset="0.666" stop-color="#006fff"/><stop offset="0.787" stop-color="#0065ff"/><stop offset="1" stop-color="#0065ff"/></linearGradient><linearGradient id="h127"><stop offset="0" stop-color="#0cff00"/><stop offset="0.022" stop-color="#00ff02"/><stop offset="0.406" stop-color="#00fcff"/><stop offset="0.593" stop-color="#0086ff"/><stop offset="0.666" stop-color="#006bff"/><stop offset="0.794" stop-color="#0063ff"/><stop offset="1" stop-color="#0063ff"/></linearGradient><linearGradient id="h128"><stop offset="0" stop-color="#08ff00"/><stop offset="0.018" stop-color="#00ff04"/><stop offset="0.399" stop-color="#00fcff"/><stop offset="0.589" stop-color="#0084ff"/><stop offset="0.662" stop-color="#0069ff"/><stop offset="0.79" stop-color="#0060ff"/><stop offset="1" stop-color="#0060ff"/></linearGradient><linearGradient id="h129"><stop offset="0" stop-color="#03ff00"/><stop offset="0.051" stop-color="#00ff1f"/><stop offset="0.392" stop-color="#00fdff"/><stop offset="0.586" stop-color="#0082ff"/><stop offset="0.659" stop-color="#0067ff"/><stop offset="0.783" stop-color="#005eff"/><stop offset="1" stop-color="#005eff"/></linearGradient><linearGradient id="h130"><stop offset="0" stop-color="#00ff01"/><stop offset="0.384" stop-color="#00fdff"/><stop offset="0.582" stop-color="#0080ff"/><stop offset="0.655" stop-color="#0064ff"/><stop offset="0.78" stop-color="#005cff"/><stop offset="1" stop-color="#005bff"/></linearGradient><linearGradient id="h131"><stop offset="0" stop-color="#00ff06"/><stop offset="0.377" stop-color="#00fdff"/><stop offset="0.578" stop-color="#007dff"/><stop offset="0.651" stop-color="#0062ff"/><stop offset="0.772" stop-color="#0059ff"/><stop offset="1" stop-color="#0059ff"/></linearGradient><linearGradient id="h132"><stop offset="0" stop-color="#00ff0a"/><stop offset="0.37" stop-color="#00feff"/><stop offset="0.575" stop-color="#007bff"/><stop offset="0.648" stop-color="#0060ff"/><stop offset="0.769" stop-color="#0057ff"/><stop offset="1" stop-color="#0056ff"/></linearGradient><linearGradient id="h133"><stop offset="0" stop-color="#00ff0f"/><stop offset="0.362" stop-color="#00feff"/><stop offset="0.571" stop-color="#0079ff"/><stop offset="0.644" stop-color="#005dff"/><stop offset="0.761" stop-color="#0054ff"/><stop offset="1" stop-color="#0054ff"/></linearGradient><linearGradient id="h134"><stop offset="0" stop-color="#00ff13"/><stop offset="0.359" stop-color="#00fcff"/><stop offset="0.567" stop-color="#0077ff"/><stop offset="0.64" stop-color="#005bff"/><stop offset="0.758" stop-color="#0052ff"/><stop offset="1" stop-color="#0051ff"/></linearGradient><linearGradient id="h135"><stop offset="0" stop-color="#00ff18"/><stop offset="0.351" stop-color="#00fcff"/><stop offset="0.564" stop-color="#0075ff"/><stop offset="0.637" stop-color="#0059ff"/><stop offset="0.754" stop-color="#004fff"/><stop offset="1" stop-color="#004fff"/></linearGradient><linearGradient id="h136"><stop offset="0" stop-color="#00ff1d"/><stop offset="0.344" stop-color="#00fcff"/><stop offset="0.56" stop-color="#0072ff"/><stop offset="0.633" stop-color="#0056ff"/><stop offset="0.75" stop-color="#004dff"/><stop offset="1" stop-color="#004cff"/></linearGradient><linearGradient id="h137"><stop offset="0" stop-color="#00ff22"/><stop offset="0.337" stop-color="#00fcff"/><stop offset="0.556" stop-color="#0070ff"/><stop offset="0.629" stop-color="#0054ff"/><stop offset="0.747" stop-color="#004aff"/><stop offset="1" stop-color="#004aff"/></linearGradient><linearGradient id="h138"><stop offset="0" stop-color="#00ff27"/><stop offset="0.329" stop-color="#00fcff"/><stop offset="0.549" stop-color="#006fff"/><stop offset="0.622" stop-color="#0052ff"/><stop offset="0.732" stop-color="#0048ff"/><stop offset="1" stop-color="#0048ff"/></linearGradient><linearGradient id="h139"><stop offset="0" stop-color="#00ff2c"/><stop offset="0.318" stop-color="#00feff"/><stop offset="0.545" stop-color="#006cff"/><stop offset="0.618" stop-color="#0050ff"/><stop offset="0.728" stop-color="#0046ff"/><stop offset="1" stop-color="#0045ff"/></linearGradient><linearGradient id="h140"><stop offset="0" stop-color="#00ff31"/><stop offset="0.311" stop-color="#00feff"/><stop offset="0.542" stop-color="#006aff"/><stop offset="0.615" stop-color="#004dff"/><stop offset="0.725" stop-color="#0043ff"/><stop offset="1" stop-color="#0043ff"/></linearGradient><linearGradient id="h141"><stop offset="0" stop-color="#00ff36"/><stop offset="0.304" stop-color="#00feff"/><stop offset="0.538" stop-color="#0067ff"/><stop offset="0.611" stop-color="#004bff"/><stop offset="0.721" stop-color="#0041ff"/><stop offset="1" stop-color="#0040ff"/></linearGradient><linearGradient id="h142"><stop offset="0" stop-color="#00ff3b"/><stop offset="0.296" stop-color="#00feff"/><stop offset="0.534" stop-color="#0065ff"/><stop offset="0.608" stop-color="#0048ff"/><stop offset="0.717" stop-color="#003eff"/><stop offset="1" stop-color="#003eff"/></linearGradient><linearGradient id="h143"><stop offset="0" stop-color="#00ff40"/><stop offset="0.289" stop-color="#00feff"/><stop offset="0.531" stop-color="#0062ff"/><stop offset="0.604" stop-color="#0046ff"/><stop offset="0.714" stop-color="#003cff"/><stop offset="1" stop-color="#003bff"/></linearGradient><linearGradient id="h144"><stop offset="0" stop-color="#00ff45"/><stop offset="0.282" stop-color="#00feff"/><stop offset="0.527" stop-color="#0060ff"/><stop offset="0.6" stop-color="#0043ff"/><stop offset="0.714" stop-color="#0039ff"/><stop offset="1" stop-color="#0039ff"/></linearGradient><linearGradient id="h145"><stop offset="0" stop-color="#00ff4a"/><stop offset="0.274" stop-color="#00feff"/><stop offset="0.523" stop-color="#005dff"/><stop offset="0.597" stop-color="#0041ff"/><stop offset="0.71" stop-color="#0037ff"/><stop offset="1" stop-color="#0036ff"/></linearGradient><linearGradient id="h146"><stop offset="0" stop-color="#00ff4f"/><stop offset="0.267" stop-color="#00feff"/><stop offset="0.516" stop-color="#005dff"/><stop offset="0.589" stop-color="#003fff"/><stop offset="0.695" stop-color="#0035ff"/><stop offset="1" stop-color="#0034ff"/></linearGradient><linearGradient id="h147"><stop offset="0" stop-color="#00ff54"/><stop offset="0.26" stop-color="#00fdff"/><stop offset="0.512" stop-color="#005aff"/><stop offset="0.586" stop-color="#003dff"/><stop offset="0.692" stop-color="#0032ff"/><stop offset="1" stop-color="#0031ff"/></linearGradient><linearGradient id="h148"><stop offset="0" stop-color="#00ff59"/><stop offset="0.253" stop-color="#00fdff"/><stop offset="0.509" stop-color="#0058ff"/><stop offset="0.582" stop-color="#003aff"/><stop offset="0.688" stop-color="#0030ff"/><stop offset="1" stop-color="#002fff"/></linearGradient><linearGradient id="h149"><stop offset="0" stop-color="#00ff5e"/><stop offset="0.245" stop-color="#00fdff"/><stop offset="0.505" stop-color="#0055ff"/><stop offset="0.578" stop-color="#0038ff"/><stop offset="0.684" stop-color="#002dff"/><stop offset="1" stop-color="#002dff"/></linearGradient><linearGradient id="h150"><stop offset="0" stop-color="#00ff66"/><stop offset="0.231" stop-color="#00feff"/><stop offset="0.494" stop-color="#0053ff"/><stop offset="0.567" stop-color="#0035ff"/><stop offset="0.67" stop-color="#002bff"/><stop offset="1" stop-color="#002aff"/></linearGradient><linearGradient id="h151"><stop offset="0" stop-color="#00ff70"/><stop offset="0.216" stop-color="#00feff"/><stop offset="0.483" stop-color="#0051ff"/><stop offset="0.556" stop-color="#0033ff"/><stop offset="0.659" stop-color="#0028ff"/><stop offset="1" stop-color="#0028ff"/></linearGradient><linearGradient id="h152"><stop offset="0" stop-color="#00ff7a"/><stop offset="0.201" stop-color="#00feff"/><stop offset="0.472" stop-color="#004fff"/><stop offset="0.545" stop-color="#0031ff"/><stop offset="0.648" stop-color="#0026ff"/><stop offset="1" stop-color="#0025ff"/></linearGradient><linearGradient id="h153"><stop offset="0" stop-color="#00ff83"/><stop offset="0.187" stop-color="#00feff"/><stop offset="0.461" stop-color="#004cff"/><stop offset="0.534" stop-color="#002eff"/><stop offset="0.637" stop-color="#0024ff"/><stop offset="1" stop-color="#0023ff"/></linearGradient><linearGradient id="h154"><stop offset="0" stop-color="#00ff8d"/><stop offset="0.176" stop-color="#00fcff"/><stop offset="0.45" stop-color="#004aff"/><stop offset="0.523" stop-color="#002cff"/><stop offset="0.626" stop-color="#0021ff"/><stop offset="1" stop-color="#0020ff"/></linearGradient><linearGradient id="h155"><stop offset="0" stop-color="#00ff97"/><stop offset="0.161" stop-color="#00fcff"/><stop offset="0.439" stop-color="#0048ff"/><stop offset="0.512" stop-color="#0029ff"/><stop offset="0.615" stop-color="#001fff"/><stop offset="1" stop-color="#001eff"/></linearGradient><linearGradient id="h156"><stop offset="0" stop-color="#00ffa1"/><stop offset="0.143" stop-color="#00feff"/><stop offset="0.428" stop-color="#0045ff"/><stop offset="0.501" stop-color="#0027ff"/><stop offset="0.604" stop-color="#001cff"/><stop offset="1" stop-color="#001bff"/></linearGradient><linearGradient id="h157"><stop offset="0" stop-color="#00ffac"/><stop offset="0.128" stop-color="#00fdff"/><stop offset="0.417" stop-color="#0042ff"/><stop offset="0.49" stop-color="#0024ff"/><stop offset="0.597" stop-color="#001aff"/><stop offset="1" stop-color="#0019ff"/></linearGradient><linearGradient id="h158"><stop offset="0" stop-color="#00ffb6"/><stop offset="0.113" stop-color="#00fcff"/><stop offset="0.403" stop-color="#0040ff"/><stop offset="0.476" stop-color="#0022ff"/><stop offset="0.578" stop-color="#0017ff"/><stop offset="1" stop-color="#0016ff"/></linearGradient><linearGradient id="h159"><stop offset="0" stop-color="#00ffc1"/><stop offset="0.095" stop-color="#00feff"/><stop offset="0.392" stop-color="#003dff"/><stop offset="0.465" stop-color="#001fff"/><stop offset="0.567" stop-color="#0015ff"/><stop offset="1" stop-color="#0014ff"/></linearGradient><linearGradient id="h160"><stop offset="0" stop-color="#00ffcb"/><stop offset="0.081" stop-color="#00fdff"/><stop offset="0.377" stop-color="#003cff"/><stop offset="0.45" stop-color="#001dff"/><stop offset="0.549" stop-color="#0012ff"/><stop offset="1" stop-color="#0011ff"/></linearGradient><linearGradient id="h161"><stop offset="0" stop-color="#00ffd6"/><stop offset="0.066" stop-color="#00fcff"/><stop offset="0.366" stop-color="#0039ff"/><stop offset="0.439" stop-color="#001bff"/><stop offset="0.542" stop-color="#0010ff"/><stop offset="1" stop-color="#000fff"/></linearGradient><linearGradient id="h162"><stop offset="0" stop-color="#00ffe1"/><stop offset="0.048" stop-color="#00feff"/><stop offset="0.355" stop-color="#0036ff"/><stop offset="0.428" stop-color="#0018ff"/><stop offset="0.534" stop-color="#000dff"/><stop offset="1" stop-color="#000dff"/></linearGradient><linearGradient id="h163"><stop offset="0" stop-color="#00ffea"/><stop offset="0.037" stop-color="#00fcff"/><stop offset="0.344" stop-color="#0034ff"/><stop offset="0.417" stop-color="#0016ff"/><stop offset="0.52" stop-color="#000bff"/><stop offset="1" stop-color="#000aff"/></linearGradient><linearGradient id="h164"><stop offset="0" stop-color="#00fff2"/><stop offset="0.026" stop-color="#00fbff"/><stop offset="0.333" stop-color="#0033ff"/><stop offset="0.406" stop-color="#0014ff"/><stop offset="0.505" stop-color="#0009ff"/><stop offset="1" stop-color="#0008ff"/></linearGradient><linearGradient id="h165"><stop offset="0" stop-color="#00fffa"/><stop offset="0.018" stop-color="#00f8ff"/><stop offset="0.326" stop-color="#0030ff"/><stop offset="0.399" stop-color="#0011ff"/><stop offset="0.498" stop-color="#0006ff"/><stop offset="1" stop-color="#0005ff"/></linearGradient><linearGradient id="h166"><stop offset="0" stop-color="#00fffd"/><stop offset="0.329" stop-color="#002aff"/><stop offset="0.403" stop-color="#000dff"/><stop offset="0.512" stop-color="#0003ff"/><stop offset="1" stop-color="#0003ff"/></linearGradient><linearGradient id="h167"><stop offset="0" stop-color="#00fdff"/><stop offset="0.322" stop-color="#002bff"/><stop offset="0.395" stop-color="#000cff"/><stop offset="0.494" stop-color="#0001ff"/><stop offset="1" stop-color="#0000ff"/></linearGradient><linearGradient id="h168"><stop offset="0" stop-color="#00f9ff"/><stop offset="0.322" stop-color="#0027ff"/><stop offset="0.395" stop-color="#0009ff"/><stop offset="0.483" stop-color="#0000ff"/><stop offset="1" stop-color="#0000ff"/></linearGradient><linearGradient id="h169"><stop offset="0" stop-color="#00f6ff"/><stop offset="0.318" stop-color="#0026ff"/><stop offset="0.392" stop-color="#0007ff"/><stop offset="0.457" stop-color="#0000ff"/><stop offset="1" stop-color="#0000ff"/></linearGradient><linearGradient id="h170"><stop offset="0" stop-color="#00f2ff"/><stop offset="0.318" stop-color="#0023ff"/><stop offset="0.392" stop-color="#0004ff"/><stop offset="0.457" stop-color="#0000ff"/><stop offset="1" stop-color="#0000ff"/></linearGradient><linearGradient id="h171"><stop offset="0" stop-color="#00f0ff"/><stop offset="0.315" stop-color="#0023ff"/><stop offset="0.388" stop-color="#0004ff"/><stop offset="0.494" stop-color="#0000ff"/><stop offset="1" stop-color="#0000ff"/></linearGradient><linearGradient id="cb" x1="0" y1="0" x2="0" y2="1"><stop offset="0" stop-color="#ff0000"/><stop offset="0.25" stop-color="#ffff00"/><stop offset="0.5" stop-color="#00ff00"/><stop offset="0.75" stop-color="#00ffff"/><stop offset="1" stop-color="#0000ff"/></linearGradient></defs><rect width="100%" height="100%" fill="#fff"/><g shape-rendering="crispEdges"><rect x="166.5" y="23" width="546.5" height="3.6" fill="url(#h0)"/><rect x="166.5" y="26" width="546.5" height="3.6" fill="url(#h1)"/><rect x="166.5" y="29" width="546.5" height="3.6" fill="url(#h2)"/><rect x="166.5" y="32" width="546.5" height="3.6" fill="url(#h3)"/><rect x="166.5" y="35" width="546.5" height="3.6" fill="url(#h4)"/><rect x="166.5" y="38" width="546.5" height="3.6" fill="url(#h5)"/><rect x="166.5" y="41" width="546.5" height="3.6" fill="url(#h6)"/><rect x="166.5" y="44" width="546.5" height="3.6" fill="url(#h7)"/><rect x="166.5" y="47" width="546.5" height="3.6" fill="url(#h8)"/><rect x="166.5" y="50" width="546.5" height="3.6" fill="url(#h9)"/><rect x="166.5" y="53" width="546.5" height="3.6" fill="url(#h10)"/><rect x="166.5" y="56" width="546.5" height="3.6" fill="url(#h11)"/><rect x="166.5" y="59" width="546.5" height="3.6" fill="url(#h12)"/><rect x="166.5" y="62" width="546.5" height="3.6" fill="url(#h13)"/><rect x="166.5" y="65" width="546.5" height="3.6" fill="url(#h14)"/><rect x="166.5" y="68" width="546.5" height="3.6" fill="url(#h15)"/><rect x="166.5" y="71" width="546.5" height="3.6" fill="url(#h16)"/><rect x="166.5" y="74" width="546.5" height="3.6" fill="url(#h17)"/><rect x="166.5" y="77" width="546.5" height="3.6" fill="url(#h18)"/><rect x="166.5" y="80" width="546.5" height="3.6" fill="url(#h19)"/><rect x="166.5" y="83" width="546.5" height="3.6" fill="url(#h20)"/><rect x="166.5" y="86" width="546.5" height="3.6" fill="url(#h21)"/><rect x="166.5" y="89" width="546.5" height="3.6" fill="url(#h22)"/><rect x="166.5" y="92" width="546.5" height="3.6" fill="url(#h23)"/><rect x="166.5" y="95" width="546.5" height="3.6" fill="url(#h24)"/><rect x="166.5" y="98" width="546.5" height="3.6" fill="url(#h25)"/><rect x="166.5" y="101" width="546.5" height="3.6" fill="url(#h26)"/><rect x="166.5" y="104" width="546.5" height="3.6" fill="url(#h27)"/><rect x="166.5" y="107" width="546.5" height="3.6" fill="url(#h28)"/><rect x="166.5" y="110" width="546.5" height="3.6" fill="url(#h29)"/><rect x="166.5" y="113" width="546.5" height="3.6" fill="url(#h30)"/><rect x="166.5" y="116" width="546.5" height="3.6" fill="url(#h31)"/><rect x="166.5" y="119" width="546.5" height="3.6" fill="url(#h32)"/><rect x="166.5" y="122" width="546.5" height="3.6" fill="url(#h33)"/><rect x="166.5" y="125" width="546.5" height="3.6" fill="url(#h34)"/><rect x="166.5" y="128" width="546.5" height="3.6" fill="url(#h35)"/><rect x="166.5" y="131" width="546.5" height="3.6" fill="url(#h36)"/><rect x="166.5" y="134" width="546.5" height="3.6" fill="url(#h37)"/><rect x="166.5" y="137" width="546.5" height="3.6" fill="url(#h38)"/><rect x="166.5" y="140" width="546.5" height="3.6" fill="url(#h39)"/><rect x="166.5" y="143" width="546.5" height="3.6" fill="url(#h40)"/><rect x="166.5" y="146" width="546.5" height="3.6" fill="url(#h41)"/><rect x="166.5" y="149" width="546.5" height="3.6" fill="url(#h42)"/><rect x="166.5" y="152" width="546.5" height="3.6" fill="url(#h43)"/><rect x="166.5" y="155" width="546.5" height="3.6" fill="url(#h44)"/><rect x="166.5" y="158" width="546.5" height="3.6" fill="url(#h45)"/><rect x="166.5" y="161" width="546.5" height="3.6" fill="url(#h46)"/><rect x="166.5" y="164" width="546.5" height="3.6" fill="url(#h47)"/><rect x="166.5" y="167" width="546.5" height="3.6" fill="url(#h48)"/><rect x="166.5" y="170" width="546.5" height="3.6" fill="url(#h49)"/><rect x="166.5" y="173" width="546.5" height="3.6" fill="url(#h50)"/><rect x="166.5" y="176" width="546.5" height="3.6" fill="url(#h51)"/><rect x="166.5" y="179" width="546.5" height="3.6" fill="url(#h52)"/><rect x="166.5" y="182" width="546.5" height="3.6" fill="url(#h53)"/><rect x="166.5" y="185" width="546.5" height="3.6" fill="url(#h54)"/><rect x="166.5" y="188" width="546.5" height="3.6" fill="url(#h55)"/><rect x="166.5" y="191" width="546.5" height="3.6" fill="url(#h56)"/><rect x="166.5" y="194" width="546.5" height="3.6" fill="url(#h57)"/><rect x="166.5" y="197" width="546.5" height="3.6" fill="url(#h58)"/><rect x="166.5" y="200" width="546.5" height="3.6" fill="url(#h59)"/><rect x="166.5" y="203" width="546.5" height="3.6" fill="url(#h60)"/><rect x="166.5" y="206" width="546.5" height="3.6" fill="url(#h61)"/><rect x="166.5" y="209" width="546.5" height="3.6" fill="url(#h62)"/><rect x="166.5" y="212" width="546.5" height="3.6" fill="url(#h63)"/><rect x="166.5" y="215" width="546.5" height="3.6" fill="url(#h64)"/><rect x="166.5" y="218" width="546.5" height="3.6" fill="url(#h65)"/><rect x="166.5" y="221" width="546.5" height="3.6" fill="url(#h66)"/><rect x="166.5" y="224" width="546.5" height="3.6" fill="url(#h67)"/><rect x="166.5" y="227" width="546.5" height="3.6" fill="url(#h68)"/><rect x="166.5" y="230" width="546.5" height="3.6" fill="url(#h69)"/><rect x="166.5" y="233" width="546.5" height="3.6" fill="url(#h70)"/><rect x="166.5" y="236" width="546.5" height="3.6" fill="url(#h71)"/><rect x="166.5" y="239" width="546.5" height="3.6" fill="url(#h72)"/><rect x="166.5" y="242" width="546.5" height="3.6" fill="url(#h73)"/><rect x="166.5" y="245" width="546.5" height="3.6" fill="url(#h74)"/><rect x="166.5" y="248" width="546.5" height="3.6" fill="url(#h75)"/><rect x="166.5" y="251" width="546.5" height="3.6" fill="url(#h76)"/><rect x="166.5" y="254" width="546.5" height="3.6" fill="url(#h77)"/><rect x="166.5" y="257" width="546.5" height="3.6" fill="url(#h78)"/><rect x="166.5" y="260" width="546.5" height="3.6" fill="url(#h79)"/><rect x="166.5" y="263" width="546.5" height="3.6" fill="url(#h80)"/><rect x="166.5" y="266" width="546.5" height="3.6" fill="url(#h81)"/><rect x="166.5" y="269" width="546.5" height="3.6" fill="url(#h82)"/><rect x="166.5" y="272" width="546.5" height="3.6" fill="url(#h83)"/><rect x="166.5" y="275" width="546.5" height="3.6" fill="url(#h84)"/><rect x="166.5" y="278" width="546.5" height="3.6" fill="url(#h85)"/><rect x="166.5" y="281" width="546.5" height="3.6" fill="url(#h86)"/><rect x="166.5" y="284" width="546.5" height="3.6" fill="url(#h87)"/><rect x="166.5" y="287" width="546.5" height="3.6" fill="url(#h88)"/><rect x="166.5" y="290" width="546.5" height="3.6" fill="url(#h89)"/><rect x="166.5" y="293" width="546.5" height="3.6" fill="url(#h90)"/><rect x="166.5" y="296" width="546.5" height="3.6" fill="url(#h91)"/><rect x="166.5" y="299" width="546.5" height="3.6" fill="url(#h92)"/><rect x="166.5" y="302" width="546.5" height="3.6" fill="url(#h93)"/><rect x="166.5" y="305" width="546.5" height="3.6" fill="url(#h94)"/><rect x="166.5" y="308" width="546.5" height="3.6" fill="url(#h95)"/><rect x="166.5" y="311" width="546.5" height="3.6" fill="url(#h96)"/><rect x="166.5" y="314" width="546.5" height="3.6" fill="url(#h97)"/><rect x="166.5" y="317" width="546.5" height="3.6" fill="url(#h98)"/><rect x="166.5" y="320" width="546.5" height="3.6" fill="url(#h99)"/><rect x="166.5" y="323" width="546.5" height="3.6" fill="url(#h100)"/><rect x="166.5" y="326" width="546.5" height="3.6" fill="url(#h101)"/><rect x="166.5" y="329" width="546.5" height="3.6" fill="url(#h102)"/><rect x="166.5" y="332" width="546.5" height="3.6" fill="url(#h103)"/><rect x="166.5" y="335" width="546.5" height="3.6" fill="url(#h104)"/><rect x="166.5" y="338" width="546.5" height="3.6" fill="url(#h105)"/><rect x="166.5" y="341" width="546.5" height="3.6" fill="url(#h106)"/><rect x="166.5" y="344" width="546.5" height="3.6" fill="url(#h107)"/><rect x="166.5" y="347" width="546.5" height="3.6" fill="url(#h108)"/><rect x="166.5" y="350" width="546.5" height="3.6" fill="url(#h109)"/><rect x="166.5" y="353" width="546.5" height="3.6" fill="url(#h110)"/><rect x="166.5" y="356" width="546.5" height="3.6" fill="url(#h111)"/><rect x="166.5" y="359" width="546.5" height="3.6" fill="url(#h112)"/><rect x="166.5" y="362" width="546.5" height="3.6" fill="url(#h113)"/><rect x="166.5" y="365" width="546.5" height="3.6" fill="url(#h114)"/><rect x="166.5" y="368" width="546.5" height="3.6" fill="url(#h115)"/><rect x="166.5" y="371" width="546.5" height="3.6" fill="url(#h116)"/><rect x="166.5" y="374" width="546.5" height="3.6" fill="url(#h117)"/><rect x="166.5" y="377" width="546.5" height="3.6" fill="url(#h118)"/><rect x="166.5" y="380" width="546.5" height="3.6" fill="url(#h119)"/><rect x="166.5" y="383" width="546.5" height="3.6" fill="url(#h120)"/><rect x="166.5" y="386" width="546.5" height="3.6" fill="url(#h121)"/><rect x="166.5" y="389" width="546.5" height="3.6" fill="url(#h122)"/><rect x="166.5" y="392" width="546.5" height="3.6" fill="url(#h123)"/><rect x="166.5" y="395" width="546.5" height="3.6" fill="url(#h124)"/><rect x="166.5" y="398" width="546.5" height="3.6" fill="url(#h125)"/><rect x="166.5" y="401" width="546.5" height="3.6" fill="url(#h126)"/><rect x="166.5" y="404" width="546.5" height="3.6" fill="url(#h127)"/><rect x="166.5" y="407" width="546.5" height="3.6" fill="url(#h128)"/><rect x="166.5" y="410" width="546.5" height="3.6" fill="url(#h129)"/><rect x="166.5" y="413" width="546.5" height="3.6" fill="url(#h130)"/><rect x="166.5" y="416" width="546.5" height="3.6" fill="url(#h131)"/><rect x="166.5" y="419" width="546.5" height="3.6" fill="url(#h132)"/><rect x="166.5" y="422" width="546.5" height="3.6" fill="url(#h133)"/><rect x="166.5" y="425" width="546.5" height="3.6" fill="url(#h134)"/><rect x="166.5" y="428" width="546.5" height="3.6" fill="url(#h135)"/><rect x="166.5" y="431" width="546.5" height="3.6" fill="url(#h136)"/><rect x="166.5" y="434" width="546.5" height="3.6" fill="url(#h137)"/><rect x="166.5" y="437" width="546.5" height="3.6" fill="url(#h138)"/><rect x="166.5" y="440" width="546.5" height="3.6" fill="url(#h139)"/><rect x="166.5" y="443" width="546.5" height="3.6" fill="url(#h140)"/><rect x="166.5" y="446" width="546.5" height="3.6" fill="url(#h141)"/><rect x="166.5" y="449" width="546.5" height="3.6" fill="url(#h142)"/><rect x="166.5" y="452" width="546.5" height="3.6" fill="url(#h143)"/><rect x="166.5" y="455" width="546.5" height="3.6" fill="url(#h144)"/><rect x="166.5" y="458" width="546.5" height="3.6" fill="url(#h145)"/><rect x="166.5" y="461" width="546.5" height="3.6" fill="url(#h146)"/><rect x="166.5" y="464" width="546.5" height="3.6" fill="url(#h147)"/><rect x="166.5" y="467" width="546.5" height="3.6" fill="url(#h148)"/><rect x="166.5" y="470" width="546.5" height="3.6" fill="url(#h149)"/><rect x="166.5" y="473" width="546.5" height="3.6" fill="url(#h150)"/><rect x="166.5" y="476" width="546.5" height="3.6" fill="url(#h151)"/><rect x="166.5" y="479" width="546.5" height="3.6" fill="url(#h152)"/><rect x="166.5" y="482" width="546.5" height="3.6" fill="url(#h153)"/><rect x="166.5" y="485" width="546.5" height="3.6" fill="url(#h154)"/><rect x="166.5" y="488" width="546.5" height="3.6" fill="url(#h155)"/><rect x="166.5" y="491" width="546.5" height="3.6" fill="url(#h156)"/><rect x="166.5" y="494" width="546.5" height="3.6" fill="url(#h157)"/><rect x="166.5" y="497" width="546.5" height="3.6" fill="url(#h158)"/><rect x="166.5" y="500" width="546.5" height="3.6" fill="url(#h159)"/><rect x="166.5" y="503" width="546.5" height="3.6" fill="url(#h160)"/><rect x="166.5" y="506" width="546.5" height="3.6" fill="url(#h161)"/><rect x="166.5" y="509" width="546.5" height="3.6" fill="url(#h162)"/><rect x="166.5" y="512" width="546.5" height="3.6" fill="url(#h163)"/><rect x="166.5" y="515" width="546.5" height="3.6" fill="url(#h164)"/><rect x="166.5" y="518" width="546.5" height="3.6" fill="url(#h165)"/><rect x="166.5" y="521" width="546.5" height="3.6" fill="url(#h166)"/><rect x="166.5" y="524" width="546.5" height="3.6" fill="url(#h167)"/><rect x="166.5" y="527" width="546.5" height="3.6" fill="url(#h168)"/><rect x="166.5" y="530" width="546.5" height="3.6" fill="url(#h169)"/><rect x="166.5" y="533" width="546.5" height="3.6" fill="url(#h170)"/><rect x="166.5" y="536" width="546.5" height="1.3" fill="url(#h171)"/></g><line x1="166.5" y1="536.7" x2="166.5" y2="526.7" stroke="#000" stroke-width="1.8"/><line x1="180.21" y1="536.7" x2="180.21" y2="531.7" stroke="#000" stroke-width="1.8"/><line x1="188.23" y1="536.7" x2="188.23" y2="531.7" stroke="#000" stroke-width="1.8"/><line x1="193.92" y1="536.7" x2="193.92" y2="531.7" stroke="#000" stroke-width="1.8"/><line x1="198.33" y1="536.7" x2="198.33" y2="531.7" stroke="#000" stroke-width="1.8"/><line x1="201.94" y1="536.7" x2="201.94" y2="531.7" stroke="#000" stroke-width="1.8"/><line x1="204.99" y1="536.7" x2="204.99" y2="531.7" stroke="#000" stroke-width="1.8"/><line x1="207.63" y1="536.7" x2="207.63" y2="531.7" stroke="#000" stroke-width="1.8"/><line x1="209.96" y1="536.7" x2="209.96" y2="531.7" stroke="#000" stroke-width="1.8"/><line x1="212.04" y1="536.7" x2="212.04" y2="526.7" stroke="#000" stroke-width="1.8"/><line x1="225.75" y1="536.7" x2="225.75" y2="531.7" stroke="#000" stroke-width="1.8"/><line x1="233.77" y1="536.7" x2="233.77" y2="531.7" stroke="#000" stroke-width="1.8"/><line x1="239.46" y1="536.7" x2="239.46" y2="531.7" stroke="#000" stroke-width="1.8"/><line x1="243.87" y1="536.7" x2="243.87" y2="531.7" stroke="#000" stroke-width="1.8"/><line x1="247.48" y1="536.7" x2="247.48" y2="531.7" stroke="#000" stroke-width="1.8"/><line x1="250.53" y1="536.7" x2="250.53" y2="531.7" stroke="#000" stroke-width="1.8"/><line x1="253.17" y1="536.7" x2="253.17" y2="531.7" stroke="#000" stroke-width="1.8"/><line x1="255.5" y1="536.7" x2="255.5" y2="531.7" stroke="#000" stroke-width="1.8"/><line x1="257.58" y1="536.7" x2="257.58" y2="526.7" stroke="#000" stroke-width="1.8"/><line x1="271.29" y1="536.7" x2="271.29" y2="531.7" stroke="#000" stroke-width="1.8"/><line x1="279.31" y1="536.7" x2="279.31" y2="531.7" stroke="#000" stroke-width="1.8"/><line x1="285" y1="536.7" x2="285" y2="531.7" stroke="#000" stroke-width="1.8"/><line x1="289.42" y1="536.7" x2="289.42" y2="531.7" stroke="#000" stroke-width="1.8"/><line x1="293.02" y1="536.7" x2="293.02" y2="531.7" stroke="#000" stroke-width="1.8"/><line x1="296.07" y1="536.7" x2="296.07" y2="531.7" stroke="#000" stroke-width="1.8"/><line x1="298.71" y1="536.7" x2="298.71" y2="531.7" stroke="#000" stroke-width="1.8"/><line x1="301.04" y1="536.7" x2="301.04" y2="531.7" stroke="#000" stroke-width="1.8"/><line x1="303.12" y1="536.7" x2="303.12" y2="526.7" stroke="#000" stroke-width="1.8"/><line x1="316.83" y1="536.7" x2="316.83" y2="531.7" stroke="#000" stroke-width="1.8"/><line x1="324.85" y1="536.7" x2="324.85" y2="531.7" stroke="#000" stroke-width="1.8"/><line x1="330.54" y1="536.7" x2="330.54" y2="531.7" stroke="#000" stroke-width="1.8"/><line x1="334.96" y1="536.7" x2="334.96" y2="531.7" stroke="#000" stroke-width="1.8"/><line x1="338.56" y1="536.7" x2="338.56" y2="531.7" stroke="#000" stroke-width="1.8"/><line x1="341.61" y1="536.7" x2="341.61" y2="531.7" stroke="#000" stroke-width="1.8"/><line x1="344.25" y1="536.7" x2="344.25" y2="531.7" stroke="#000" stroke-width="1.8"/><line x1="346.58" y1="536.7" x2="346.58" y2="531.7" stroke="#000" stroke-width="1.8"/><line x1="348.67" y1="536.7" x2="348.67" y2="526.7" stroke="#000" stroke-width="1.8"/><line x1="362.38" y1="536.7" x2="362.38" y2="531.7" stroke="#000" stroke-width="1.8"/><line x1="370.4" y1="536.7" x2="370.4" y2="531.7" stroke="#000" stroke-width="1.8"/><line x1="376.09" y1="536.7" x2="376.09" y2="531.7" stroke="#000" stroke-width="1.8"/><line x1="380.5" y1="536.7" x2="380.5" y2="531.7" stroke="#000" stroke-width="1.8"/><line x1="384.1" y1="536.7" x2="384.1" y2="531.7" stroke="#000" stroke-width="1.8"/><line x1="387.15" y1="536.7" x2="387.15" y2="531.7" stroke="#000" stroke-width="1.8"/><line x1="389.79" y1="536.7" x2="389.79" y2="531.7" stroke="#000" stroke-width="1.8"/><line x1="392.12" y1="536.7" x2="392.12" y2="531.7" stroke="#000" stroke-width="1.8"/><line x1="394.21" y1="536.7" x2="394.21" y2="526.7" stroke="#000" stroke-width="1.8"/><line x1="407.92" y1="536.7" x2="407.92" y2="531.7" stroke="#000" stroke-width="1.8"/><line x1="415.94" y1="536.7" x2="415.94" y2="531.7" stroke="#000" stroke-width="1.8"/><line x1="421.63" y1="536.7" x2="421.63" y2="531.7" stroke="#000" stroke-width="1.8"/><line x1="426.04" y1="536.7" x2="426.04" y2="531.7" stroke="#000" stroke-width="1.8"/><line x1="429.65" y1="536.7" x2="429.65" y2="531.7" stroke="#000" stroke-width="1.8"/><line x1="432.7" y1="536.7" x2="432.7" y2="531.7" stroke="#000" stroke-width="1.8"/><line x1="435.34" y1="536.7" x2="435.34" y2="531.7" stroke="#000" stroke-width="1.8"/><line x1="437.67" y1="536.7" x2="437.67" y2="531.7" stroke="#000" stroke-width="1.8"/><line x1="439.75" y1="536.7" x2="439.75" y2="526.7" stroke="#000" stroke-width="1.8"/><line x1="453.46" y1="536.7" x2="453.46" y2="531.7" stroke="#000" stroke-width="1.8"/><line x1="461.48" y1="536.7" x2="461.48" y2="531.7" stroke="#000" stroke-width="1.8"/><line x1="467.17" y1="536.7" x2="467.17" y2="531.7" stroke="#000" stroke-width="1.8"/><line x1="471.58" y1="536.7" x2="471.58" y2="531.7" stroke="#000" stroke-width="1.8"/><line x1="475.19" y1="536.7" x2="475.19" y2="531.7" stroke="#000" stroke-width="1.8"/><line x1="478.24" y1="536.7" x2="478.24" y2="531.7" stroke="#000" stroke-width="1.8"/><line x1="480.88" y1="536.7" x2="480.88" y2="531.7" stroke="#000" stroke-width="1.8"/><line x1="483.21" y1="536.7" x2="483.21" y2="531.7" stroke="#000" stroke-width="1.8"/><line x1="485.29" y1="536.7" x2="485.29" y2="526.7" stroke="#000" stroke-width="1.8"/><line x1="499" y1="536.7" x2="499" y2="531.7" stroke="#000" stroke-width="1.8"/><line x1="507.02" y1="536.7" x2="507.02" y2="531.7" stroke="#000" stroke-width="1.8"/><line x1="512.71" y1="536.7" x2="512.71" y2="531.7" stroke="#000" stroke-width="1.8"/><line x1="517.12" y1="536.7" x2="517.12" y2="531.7" stroke="#000" stroke-width="1.8"/><line x1="520.73" y1="536.7" x2="520.73" y2="531.7" stroke="#000" stroke-width="1.8"/><line x1="523.78" y1="536.7" x2="523.78" y2="531.7" stroke="#000" stroke-width="1.8"/><line x1="526.42" y1="536.7" x2="526.42" y2="531.7" stroke="#000" stroke-width="1.8"/><line x1="528.75" y1="536.7" x2="528.75" y2="531.7" stroke="#000" stroke-width="1.8"/><line x1="530.83" y1="536.7" x2="530.83" y2="526.7" stroke="#000" stroke-width="1.8"/><line x1="544.54" y1="536.7" x2="544.54" y2="531.7" stroke="#000" stroke-width="1.8"/><line x1="552.56" y1="536.7" x2="552.56" y2="531.7" stroke="#000" stroke-width="1.8"/><line x1="558.25" y1="536.7" x2="558.25" y2="531.7" stroke="#000" stroke-width="1.8"/><line x1="562.67" y1="536.7" x2="562.67" y2="531.7" stroke="#000" stroke-width="1.8"/><line x1="566.27" y1="536.7" x2="566.27" y2="531.7" stroke="#000" stroke-width="1.8"/><line x1="569.32" y1="536.7" x2="569.32" y2="531.7" stroke="#000" stroke-width="1.8"/><line x1="571.96" y1="536.7" x2="571.96" y2="531.7" stroke="#000" stroke-width="1.8"/><line x1="574.29" y1="536.7" x2="574.29" y2="531.7" stroke="#000" stroke-width="1.8"/><line x1="576.38" y1="536.7" x2="576.38" y2="526.7" stroke="#000" stroke-width="1.8"/><line x1="590.08" y1="536.7" x2="590.08" y2="531.7" stroke="#000" stroke-width="1.8"/><line x1="598.1" y1="536.7" x2="598.1" y2="531.7" stroke="#000" stroke-width="1.8"/><line x1="603.79" y1="536.7" x2="603.79" y2="531.7" stroke="#000" stroke-width="1.8"/><line x1="608.21" y1="536.7" x2="608.21" y2="531.7" stroke="#000" stroke-width="1.8"/><line x1="611.81" y1="536.7" x2="611.81" y2="531.7" stroke="#000" stroke-width="1.8"/><line x1="614.86" y1="536.7" x2="614.86" y2="531.7" stroke="#000" stroke-width="1.8"/><line x1="617.5" y1="536.7" x2="617.5" y2="531.7" stroke="#000" stroke-width="1.8"/><line x1="619.83" y1="536.7" x2="619.83" y2="531.7" stroke="#000" stroke-width="1.8"/><line x1="621.92" y1="536.7" x2="621.92" y2="526.7" stroke="#000" stroke-width="1.8"/><line x1="635.63" y1="536.7" x2="635.63" y2="531.7" stroke="#000" stroke-width="1.8"/><line x1="643.65" y1="536.7" x2="643.65" y2="531.7" stroke="#000" stroke-width="1.8"/><line x1="649.34" y1="536.7" x2="649.34" y2="531.7" stroke="#000" stroke-width="1.8"/><line x1="653.75" y1="536.7" x2="653.75" y2="531.7" stroke="#000" stroke-width="1.8"/><line x1="657.35" y1="536.7" x2="657.35" y2="531.7" stroke="#000" stroke-width="1.8"/><line x1="660.4" y1="536.7" x2="660.4" y2="531.7" stroke="#000" stroke-width="1.8"/><line x1="663.04" y1="536.7" x2="663.04" y2="531.7" stroke="#000" stroke-width="1.8"/><line x1="665.37" y1="536.7" x2="665.37" y2="531.7" stroke="#000" stroke-width="1.8"/><line x1="667.46" y1="536.7" x2="667.46" y2="526.7" stroke="#000" stroke-width="1.8"/><line x1="681.17" y1="536.7" x2="681.17" y2="531.7" stroke="#000" stroke-width="1.8"/><line x1="689.19" y1="536.7" x2="689.19" y2="531.7" stroke="#000" stroke-width="1.8"/><line x1="694.88" y1="536.7" x2="694.88" y2="531.7" stroke="#000" stroke-width="1.8"/><line x1="699.29" y1="536.7" x2="699.29" y2="531.7" stroke="#000" stroke-width="1.8"/><line x1="702.9" y1="536.7" x2="702.9" y2="531.7" stroke="#000" stroke-width="1.8"/><line x1="705.95" y1="536.7" x2="705.95" y2="531.7" stroke="#000" stroke-width="1.8"/><line x1="708.59" y1="536.7" x2="708.59" y2="531.7" stroke="#000" stroke-width="1.8"/><line x1="710.92" y1="536.7" x2="710.92" y2="531.7" stroke="#000" stroke-width="1.8"/><line x1="713" y1="536.7" x2="713" y2="526.7" stroke="#000" stroke-width="1.8"/><line x1="166.5" y1="526.11" x2="171.5" y2="526.11" stroke="#000" stroke-width="1.8"/><line x1="166.5" y1="514.18" x2="171.5" y2="514.18" stroke="#000" stroke-width="1.8"/><line x1="166.5" y1="505.71" x2="171.5" y2="505.71" stroke="#000" stroke-width="1.8"/><line x1="166.5" y1="499.14" x2="171.5" y2="499.14" stroke="#000" stroke-width="1.8"/><line x1="166.5" y1="493.78" x2="171.5" y2="493.78" stroke="#000" stroke-width="1.8"/><line x1="166.5" y1="489.24" x2="171.5" y2="489.24" stroke="#000" stroke-width="1.8"/><line x1="166.5" y1="485.32" x2="171.5" y2="485.32" stroke="#000" stroke-width="1.8"/><line x1="166.5" y1="481.85" x2="171.5" y2="481.85" stroke="#000" stroke-width="1.8"/><line x1="166.5" y1="478.75" x2="176.5" y2="478.75" stroke="#000" stroke-width="1.8"/><line x1="166.5" y1="458.36" x2="171.5" y2="458.36" stroke="#000" stroke-width="1.8"/><line x1="166.5" y1="446.43" x2="171.5" y2="446.43" stroke="#000" stroke-width="1.8"/><line x1="166.5" y1="437.96" x2="171.5" y2="437.96" stroke="#000" stroke-width="1.8"/><line x1="166.5" y1="431.39" x2="171.5" y2="431.39" stroke="#000" stroke-width="1.8"/><line x1="166.5" y1="426.03" x2="171.5" y2="426.03" stroke="#000" stroke-width="1.8"/><line x1="166.5" y1="421.49" x2="171.5" y2="421.49" stroke="#000" stroke-width="1.8"/><line x1="166.5" y1="417.57" x2="171.5" y2="417.57" stroke="#000" stroke-width="1.8"/><line x1="166.5" y1="414.1" x2="171.5" y2="414.1" stroke="#000" stroke-width="1.8"/><line x1="166.5" y1="411" x2="176.5" y2="411" stroke="#000" stroke-width="1.8"/><line x1="166.5" y1="390.61" x2="171.5" y2="390.61" stroke="#000" stroke-width="1.8"/><line x1="166.5" y1="378.68" x2="171.5" y2="378.68" stroke="#000" stroke-width="1.8"/><line x1="166.5" y1="370.21" x2="171.5" y2="370.21" stroke="#000" stroke-width="1.8"/><line x1="166.5" y1="363.64" x2="171.5" y2="363.64" stroke="#000" stroke-width="1.8"/><line x1="166.5" y1="358.28" x2="171.5" y2="358.28" stroke="#000" stroke-width="1.8"/><line x1="166.5" y1="353.74" x2="171.5" y2="353.74" stroke="#000" stroke-width="1.8"/><line x1="166.5" y1="349.82" x2="171.5" y2="349.82" stroke="#000" stroke-width="1.8"/><line x1="166.5" y1="346.35" x2="171.5" y2="346.35" stroke="#000" stroke-width="1.8"/><line x1="166.5" y1="343.25" x2="176.5" y2="343.25" stroke="#000" stroke-width="1.8"/><line x1="166.5" y1="322.86" x2="171.5" y2="322.86" stroke="#000" stroke-width="1.8"/><line x1="166.5" y1="310.93" x2="171.5" y2="310.93" stroke="#000" stroke-width="1.8"/><line x1="166.5" y1="302.46" x2="171.5" y2="302.46" stroke="#000" stroke-width="1.8"/><line x1="166.5" y1="295.89" x2="171.5" y2="295.89" stroke="#000" stroke-width="1.8"/><line x1="166.5" y1="290.53" x2="171.5" y2="290.53" stroke="#000" stroke-width="1.8"/><line x1="166.5" y1="285.99" x2="171.5" y2="285.99" stroke="#000" stroke-width="1.8"/><line x1="166.5" y1="282.07" x2="171.5" y2="282.07" stroke="#000" stroke-width="1.8"/><line x1="166.5" y1="278.6" x2="171.5" y2="278.6" stroke="#000" stroke-width="1.8"/><line x1="166.5" y1="275.5" x2="176.5" y2="275.5" stroke="#000" stroke-width="1.8"/><line x1="166.5" y1="255.11" x2="171.5" y2="255.11" stroke="#000" stroke-width="1.8"/><line x1="166.5" y1="243.18" x2="171.5" y2="243.18" stroke="#000" stroke-width="1.8"/><line x1="166.5" y1="234.71" x2="171.5" y2="234.71" stroke="#000" stroke-width="1.8"/><line x1="166.5" y1="228.14" x2="171.5" y2="228.14" stroke="#000" stroke-width="1.8"/><line x1="166.5" y1="222.78" x2="171.5" y2="222.78" stroke="#000" stroke-width="1.8"/><line x1="166.5" y1="218.24" x2="171.5" y2="218.24" stroke="#000" stroke-width="1.8"/><line x1="166.5" y1="214.32" x2="171.5" y2="214.32" stroke="#000" stroke-width="1.8"/><line x1="166.5" y1="210.85" x2="171.5" y2="210.85" stroke="#000" stroke-width="1.8"/><line x1="166.5" y1="207.75" x2="176.5" y2="207.75" stroke="#000" stroke-width="1.8"/><line x1="166.5" y1="187.36" x2="171.5" y2="187.36" stroke="#000" stroke-width="1.8"/><line x1="166.5" y1="175.43" x2="171.5" y2="175.43" stroke="#000" stroke-width="1.8"/><line x1="166.5" y1="166.96" x2="171.5" y2="166.96" stroke="#000" stroke-width="1.8"/><line x1="166.5" y1="160.39" x2="171.5" y2="160.39" stroke="#000" stroke-width="1.8"/><line x1="166.5" y1="155.03" x2="171.5" y2="155.03" stroke="#000" stroke-width="1.8"/><line x1="166.5" y1="150.49" x2="171.5" y2="150.49" stroke="#000" stroke-width="1.8"/><line x1="166.5" y1="146.57" x2="171.5" y2="146.57" stroke="#000" stroke-width="1.8"/><line x1="166.5" y1="143.1" x2="171.5" y2="143.1" stroke="#000" stroke-width="1.8"/><line x1="166.5" y1="140" x2="176.5" y2="140" stroke="#000" stroke-width="1.8"/><line x1="166.5" y1="119.61" x2="171.5" y2="119.61" stroke="#000" stroke-width="1.8"/><line x1="166.5" y1="107.68" x2="171.5" y2="107.68" stroke="#000" stroke-width="1.8"/><line x1="166.5" y1="99.21" x2="171.5" y2="99.21" stroke="#000" stroke-width="1.8"/><line x1="166.5" y1="92.64" x2="171.5" y2="92.64" stroke="#000" stroke-width="1.8"/><line x1="166.5" y1="87.28" x2="171.5" y2="87.28" stroke="#000" stroke-width="1.8"/><line x1="166.5" y1="82.74" x2="171.5" y2="82.74" stroke="#000" stroke-width="1.8"/><line x1="166.5" y1="78.82" x2="171.5" y2="78.82" stroke="#000" stroke-width="1.8"/><line x1="166.5" y1="75.35" x2="171.5" y2="75.35" stroke="#000" stroke-width="1.8"/><line x1="166.5" y1="72.25" x2="176.5" y2="72.25" stroke="#000" stroke-width="1.8"/><line x1="166.5" y1="51.86" x2="171.5" y2="51.86" stroke="#000" stroke-width="1.8"/><line x1="166.5" y1="39.93" x2="171.5" y2="39.93" stroke="#000" stroke-width="1.8"/><line x1="166.5" y1="31.46" x2="171.5" y2="31.46" stroke="#000" stroke-width="1.8"/><line x1="166.5" y1="24.89" x2="171.5" y2="24.89" stroke="#000" stroke-width="1.8"/><rect x="166.5" y="23" width="546.5" height="513.7" fill="none" stroke="#000" stroke-width="2.2"/><text x="166.5" y="589.7" font-size="44" font-weight="bold" text-anchor="middle">10<tspan dy="-18.04" font-size="28.16">−3</tspan><tspan dy="18.04"> </tspan></text><text x="303.12" y="589.7" font-size="44" font-weight="bold" text-anchor="middle">10<tspan dy="-18.04" font-size="28.16">0</tspan><tspan dy="18.04"> </tspan></text><text x="439.75" y="589.7" font-size="44" font-weight="bold" text-anchor="middle">10<tspan dy="-18.04" font-size="28.16">3</tspan><tspan dy="18.04"> </tspan></text><text x="576.38" y="589.7" font-size="44" font-weight="bold" text-anchor="middle">10<tspan dy="-18.04" font-size="28.16">6</tspan><tspan dy="18.04"> </tspan></text><text x="713" y="589.7" font-size="44" font-weight="bold" text-anchor="middle">10<tspan dy="-18.04" font-size="28.16">9</tspan><tspan dy="18.04"> </tspan></text><text x="155.5" y="156" font-size="44" font-weight="bold" text-anchor="end">10<tspan dy="-17.6" font-size="28.16">−6</tspan><tspan dy="17.6"> </tspan></text><text x="155.5" y="291.5" font-size="44" font-weight="bold" text-anchor="end">10<tspan dy="-17.6" font-size="28.16">−8</tspan><tspan dy="17.6"> </tspan></text><text x="155.5" y="427" font-size="44" font-weight="bold" text-anchor="end">10<tspan dy="-17.6" font-size="28.16">−10</tspan><tspan dy="17.6"> </tspan></text><text x="439.5" y="655" font-size="43.5" font-weight="bold" text-anchor="middle">Frequency (Hz)</text><text x="32" y="280.5" font-size="44" font-weight="bold" text-anchor="middle" transform="rotate(-90 32 280.5)"><tspan font-style="italic">I</tspan><tspan dy="11.88" font-size="29.92">DS</tspan><tspan dy="-11.88"> (A)</tspan></text><rect x="739" y="83" width="22" height="454.8" fill="url(#cb)"/><line x1="761" y1="533.1" x2="753" y2="533.1" stroke="#000" stroke-width="1.8"/><line x1="761" y1="483.6" x2="753" y2="483.6" stroke="#000" stroke-width="1.8"/><line x1="761" y1="434.1" x2="753" y2="434.1" stroke="#000" stroke-width="1.8"/><line x1="761" y1="384.6" x2="753" y2="384.6" stroke="#000" stroke-width="1.8"/><line x1="761" y1="335.1" x2="753" y2="335.1" stroke="#000" stroke-width="1.8"/><line x1="761" y1="285.6" x2="753" y2="285.6" stroke="#000" stroke-width="1.8"/><line x1="761" y1="236.1" x2="753" y2="236.1" stroke="#000" stroke-width="1.8"/><line x1="761" y1="186.6" x2="753" y2="186.6" stroke="#000" stroke-width="1.8"/><line x1="761" y1="137.1" x2="753" y2="137.1" stroke="#000" stroke-width="1.8"/><line x1="761" y1="87.6" x2="753" y2="87.6" stroke="#000" stroke-width="1.8"/><rect x="739" y="83" width="22" height="454.8" fill="none" stroke="#000" stroke-width="1.8"/><text x="779" y="155.1" font-size="44" font-weight="bold">10<tspan dy="-17.6" font-size="28.16">−7</tspan><tspan dy="17.6"> </tspan></text><text x="779" y="254.1" font-size="44" font-weight="bold">10<tspan dy="-17.6" font-size="28.16">−9</tspan><tspan dy="17.6"> </tspan></text><text x="779" y="353.1" font-size="44" font-weight="bold">10<tspan dy="-17.6" font-size="28.16">−11</tspan><tspan dy="17.6"> </tspan></text><text x="779" y="452.1" font-size="44" font-weight="bold">10<tspan dy="-17.6" font-size="28.16">−13</tspan><tspan dy="17.6"> </tspan></text><text x="779" y="551.1" font-size="44" font-weight="bold">10<tspan dy="-17.6" font-size="28.16">−15</tspan><tspan dy="17.6"> </tspan></text><text x="713.8" y="55.3" font-size="44" font-weight="bold">S<tspan dy="11.22" font-size="29.92" font-weight="normal">I</tspan><tspan dy="-11.22"> (A Hz</tspan><tspan dy="-17.6" font-size="29.92" font-weight="normal">-1/2</tspan><tspan dy="17.6">)</tspan></text><text x="4.3" y="52" font-size="57" font-weight="bold">a</text><text x="967.4" y="52.5" font-size="57" font-weight="bold">b</text><text x="4.2" y="665" font-size="57" font-weight="bold">c</text><text x="14.4" y="1328" font-size="57" font-weight="bold">d</text><line x1="1148.79" y1="453.73" x2="1693.24" y2="208.52" stroke="#E3A42C" stroke-width="4.2"/><line x1="1148.79" y1="495.41" x2="1693.24" y2="250.19" stroke="#5E9E1E" stroke-width="4.2"/><path d="M1151.4 457.7 L1155.7 447.4 L1164.3 420 L1169.4 409.7 L1184.9 392.6 L1202 375.4 L1226 354.9 L1250 334.3 L1270 318.6 L1286.7 304 L1299.3 289.4 L1316 268.5 L1323.3 263.2 L1353.6 248.6 L1364.1 242.3 L1370.4 232.9 L1385 216.2 L1393.4 208.9 L1416.4 197.4 L1440 182.7 L1461.1 170.9 L1480 158.9 L1495.4 147.7 L1512.6 140.9 L1522.9 136.6 L1540 128 L1557.2 118.6 L1567.4 110.9 L1584.6 101.4 L1608.6 86 L1634.3 71.4 L1660 55.1 L1677.2 44.9 L1692.6 34.6" fill="none" stroke="#1890FF" stroke-width="3.8" stroke-linejoin="round" stroke-linecap="round"/><polygon points="1147,432 1709.7,32.9 1709.7,51.7 1147,451" fill="#FDD67D" fill-opacity="0.5"/><line x1="1142" y1="537.4" x2="1142" y2="523.9" stroke="#000" stroke-width="1.8"/><line x1="1163.51" y1="537.4" x2="1163.51" y2="530.4" stroke="#000" stroke-width="1.8"/><line x1="1176.09" y1="537.4" x2="1176.09" y2="530.4" stroke="#000" stroke-width="1.8"/><line x1="1185.02" y1="537.4" x2="1185.02" y2="530.4" stroke="#000" stroke-width="1.8"/><line x1="1191.94" y1="537.4" x2="1191.94" y2="530.4" stroke="#000" stroke-width="1.8"/><line x1="1197.6" y1="537.4" x2="1197.6" y2="530.4" stroke="#000" stroke-width="1.8"/><line x1="1202.38" y1="537.4" x2="1202.38" y2="530.4" stroke="#000" stroke-width="1.8"/><line x1="1206.53" y1="537.4" x2="1206.53" y2="530.4" stroke="#000" stroke-width="1.8"/><line x1="1210.18" y1="537.4" x2="1210.18" y2="530.4" stroke="#000" stroke-width="1.8"/><line x1="1213.45" y1="537.4" x2="1213.45" y2="523.9" stroke="#000" stroke-width="1.8"/><line x1="1234.96" y1="537.4" x2="1234.96" y2="530.4" stroke="#000" stroke-width="1.8"/><line x1="1247.54" y1="537.4" x2="1247.54" y2="530.4" stroke="#000" stroke-width="1.8"/><line x1="1256.47" y1="537.4" x2="1256.47" y2="530.4" stroke="#000" stroke-width="1.8"/><line x1="1263.39" y1="537.4" x2="1263.39" y2="530.4" stroke="#000" stroke-width="1.8"/><line x1="1269.05" y1="537.4" x2="1269.05" y2="530.4" stroke="#000" stroke-width="1.8"/><line x1="1273.83" y1="537.4" x2="1273.83" y2="530.4" stroke="#000" stroke-width="1.8"/><line x1="1277.98" y1="537.4" x2="1277.98" y2="530.4" stroke="#000" stroke-width="1.8"/><line x1="1281.63" y1="537.4" x2="1281.63" y2="530.4" stroke="#000" stroke-width="1.8"/><line x1="1284.9" y1="537.4" x2="1284.9" y2="523.9" stroke="#000" stroke-width="1.8"/><line x1="1306.41" y1="537.4" x2="1306.41" y2="530.4" stroke="#000" stroke-width="1.8"/><line x1="1318.99" y1="537.4" x2="1318.99" y2="530.4" stroke="#000" stroke-width="1.8"/><line x1="1327.92" y1="537.4" x2="1327.92" y2="530.4" stroke="#000" stroke-width="1.8"/><line x1="1334.84" y1="537.4" x2="1334.84" y2="530.4" stroke="#000" stroke-width="1.8"/><line x1="1340.5" y1="537.4" x2="1340.5" y2="530.4" stroke="#000" stroke-width="1.8"/><line x1="1345.28" y1="537.4" x2="1345.28" y2="530.4" stroke="#000" stroke-width="1.8"/><line x1="1349.43" y1="537.4" x2="1349.43" y2="530.4" stroke="#000" stroke-width="1.8"/><line x1="1353.08" y1="537.4" x2="1353.08" y2="530.4" stroke="#000" stroke-width="1.8"/><line x1="1356.35" y1="537.4" x2="1356.35" y2="523.9" stroke="#000" stroke-width="1.8"/><line x1="1377.86" y1="537.4" x2="1377.86" y2="530.4" stroke="#000" stroke-width="1.8"/><line x1="1390.44" y1="537.4" x2="1390.44" y2="530.4" stroke="#000" stroke-width="1.8"/><line x1="1399.37" y1="537.4" x2="1399.37" y2="530.4" stroke="#000" stroke-width="1.8"/><line x1="1406.29" y1="537.4" x2="1406.29" y2="530.4" stroke="#000" stroke-width="1.8"/><line x1="1411.95" y1="537.4" x2="1411.95" y2="530.4" stroke="#000" stroke-width="1.8"/><line x1="1416.73" y1="537.4" x2="1416.73" y2="530.4" stroke="#000" stroke-width="1.8"/><line x1="1420.88" y1="537.4" x2="1420.88" y2="530.4" stroke="#000" stroke-width="1.8"/><line x1="1424.53" y1="537.4" x2="1424.53" y2="530.4" stroke="#000" stroke-width="1.8"/><line x1="1427.8" y1="537.4" x2="1427.8" y2="523.9" stroke="#000" stroke-width="1.8"/><line x1="1449.31" y1="537.4" x2="1449.31" y2="530.4" stroke="#000" stroke-width="1.8"/><line x1="1461.89" y1="537.4" x2="1461.89" y2="530.4" stroke="#000" stroke-width="1.8"/><line x1="1470.82" y1="537.4" x2="1470.82" y2="530.4" stroke="#000" stroke-width="1.8"/><line x1="1477.74" y1="537.4" x2="1477.74" y2="530.4" stroke="#000" stroke-width="1.8"/><line x1="1483.4" y1="537.4" x2="1483.4" y2="530.4" stroke="#000" stroke-width="1.8"/><line x1="1488.18" y1="537.4" x2="1488.18" y2="530.4" stroke="#000" stroke-width="1.8"/><line x1="1492.33" y1="537.4" x2="1492.33" y2="530.4" stroke="#000" stroke-width="1.8"/><line x1="1495.98" y1="537.4" x2="1495.98" y2="530.4" stroke="#000" stroke-width="1.8"/><line x1="1499.25" y1="537.4" x2="1499.25" y2="523.9" stroke="#000" stroke-width="1.8"/><line x1="1520.76" y1="537.4" x2="1520.76" y2="530.4" stroke="#000" stroke-width="1.8"/><line x1="1533.34" y1="537.4" x2="1533.34" y2="530.4" stroke="#000" stroke-width="1.8"/><line x1="1542.27" y1="537.4" x2="1542.27" y2="530.4" stroke="#000" stroke-width="1.8"/><line x1="1549.19" y1="537.4" x2="1549.19" y2="530.4" stroke="#000" stroke-width="1.8"/><line x1="1554.85" y1="537.4" x2="1554.85" y2="530.4" stroke="#000" stroke-width="1.8"/><line x1="1559.63" y1="537.4" x2="1559.63" y2="530.4" stroke="#000" stroke-width="1.8"/><line x1="1563.78" y1="537.4" x2="1563.78" y2="530.4" stroke="#000" stroke-width="1.8"/><line x1="1567.43" y1="537.4" x2="1567.43" y2="530.4" stroke="#000" stroke-width="1.8"/><line x1="1570.7" y1="537.4" x2="1570.7" y2="523.9" stroke="#000" stroke-width="1.8"/><line x1="1592.21" y1="537.4" x2="1592.21" y2="530.4" stroke="#000" stroke-width="1.8"/><line x1="1604.79" y1="537.4" x2="1604.79" y2="530.4" stroke="#000" stroke-width="1.8"/><line x1="1613.72" y1="537.4" x2="1613.72" y2="530.4" stroke="#000" stroke-width="1.8"/><line x1="1620.64" y1="537.4" x2="1620.64" y2="530.4" stroke="#000" stroke-width="1.8"/><line x1="1626.3" y1="537.4" x2="1626.3" y2="530.4" stroke="#000" stroke-width="1.8"/><line x1="1631.08" y1="537.4" x2="1631.08" y2="530.4" stroke="#000" stroke-width="1.8"/><line x1="1635.23" y1="537.4" x2="1635.23" y2="530.4" stroke="#000" stroke-width="1.8"/><line x1="1638.88" y1="537.4" x2="1638.88" y2="530.4" stroke="#000" stroke-width="1.8"/><line x1="1642.15" y1="537.4" x2="1642.15" y2="523.9" stroke="#000" stroke-width="1.8"/><line x1="1663.66" y1="537.4" x2="1663.66" y2="530.4" stroke="#000" stroke-width="1.8"/><line x1="1676.24" y1="537.4" x2="1676.24" y2="530.4" stroke="#000" stroke-width="1.8"/><line x1="1685.17" y1="537.4" x2="1685.17" y2="530.4" stroke="#000" stroke-width="1.8"/><line x1="1692.09" y1="537.4" x2="1692.09" y2="530.4" stroke="#000" stroke-width="1.8"/><line x1="1697.75" y1="537.4" x2="1697.75" y2="530.4" stroke="#000" stroke-width="1.8"/><line x1="1702.53" y1="537.4" x2="1702.53" y2="530.4" stroke="#000" stroke-width="1.8"/><line x1="1706.68" y1="537.4" x2="1706.68" y2="530.4" stroke="#000" stroke-width="1.8"/><line x1="1710.33" y1="537.4" x2="1710.33" y2="530.4" stroke="#000" stroke-width="1.8"/><line x1="1713.6" y1="537.4" x2="1713.6" y2="523.9" stroke="#000" stroke-width="1.8"/><line x1="1141.7" y1="537.4" x2="1155.2" y2="537.4" stroke="#000" stroke-width="1.8"/><line x1="1141.7" y1="518.03" x2="1148.7" y2="518.03" stroke="#000" stroke-width="1.8"/><line x1="1141.7" y1="506.69" x2="1148.7" y2="506.69" stroke="#000" stroke-width="1.8"/><line x1="1141.7" y1="498.65" x2="1148.7" y2="498.65" stroke="#000" stroke-width="1.8"/><line x1="1141.7" y1="492.41" x2="1148.7" y2="492.41" stroke="#000" stroke-width="1.8"/><line x1="1141.7" y1="487.32" x2="1148.7" y2="487.32" stroke="#000" stroke-width="1.8"/><line x1="1141.7" y1="483.01" x2="1148.7" y2="483.01" stroke="#000" stroke-width="1.8"/><line x1="1141.7" y1="479.28" x2="1148.7" y2="479.28" stroke="#000" stroke-width="1.8"/><line x1="1141.7" y1="475.98" x2="1148.7" y2="475.98" stroke="#000" stroke-width="1.8"/><line x1="1141.7" y1="473.04" x2="1155.2" y2="473.04" stroke="#000" stroke-width="1.8"/><line x1="1141.7" y1="453.67" x2="1148.7" y2="453.67" stroke="#000" stroke-width="1.8"/><line x1="1141.7" y1="442.33" x2="1148.7" y2="442.33" stroke="#000" stroke-width="1.8"/><line x1="1141.7" y1="434.29" x2="1148.7" y2="434.29" stroke="#000" stroke-width="1.8"/><line x1="1141.7" y1="428.05" x2="1148.7" y2="428.05" stroke="#000" stroke-width="1.8"/><line x1="1141.7" y1="422.96" x2="1148.7" y2="422.96" stroke="#000" stroke-width="1.8"/><line x1="1141.7" y1="418.65" x2="1148.7" y2="418.65" stroke="#000" stroke-width="1.8"/><line x1="1141.7" y1="414.92" x2="1148.7" y2="414.92" stroke="#000" stroke-width="1.8"/><line x1="1141.7" y1="411.62" x2="1148.7" y2="411.62" stroke="#000" stroke-width="1.8"/><line x1="1141.7" y1="408.68" x2="1155.2" y2="408.68" stroke="#000" stroke-width="1.8"/><line x1="1141.7" y1="389.31" x2="1148.7" y2="389.31" stroke="#000" stroke-width="1.8"/><line x1="1141.7" y1="377.97" x2="1148.7" y2="377.97" stroke="#000" stroke-width="1.8"/><line x1="1141.7" y1="369.93" x2="1148.7" y2="369.93" stroke="#000" stroke-width="1.8"/><line x1="1141.7" y1="363.69" x2="1148.7" y2="363.69" stroke="#000" stroke-width="1.8"/><line x1="1141.7" y1="358.6" x2="1148.7" y2="358.6" stroke="#000" stroke-width="1.8"/><line x1="1141.7" y1="354.29" x2="1148.7" y2="354.29" stroke="#000" stroke-width="1.8"/><line x1="1141.7" y1="350.56" x2="1148.7" y2="350.56" stroke="#000" stroke-width="1.8"/><line x1="1141.7" y1="347.26" x2="1148.7" y2="347.26" stroke="#000" stroke-width="1.8"/><line x1="1141.7" y1="344.32" x2="1155.2" y2="344.32" stroke="#000" stroke-width="1.8"/><line x1="1141.7" y1="324.95" x2="1148.7" y2="324.95" stroke="#000" stroke-width="1.8"/><line x1="1141.7" y1="313.61" x2="1148.7" y2="313.61" stroke="#000" stroke-width="1.8"/><line x1="1141.7" y1="305.57" x2="1148.7" y2="305.57" stroke="#000" stroke-width="1.8"/><line x1="1141.7" y1="299.33" x2="1148.7" y2="299.33" stroke="#000" stroke-width="1.8"/><line x1="1141.7" y1="294.24" x2="1148.7" y2="294.24" stroke="#000" stroke-width="1.8"/><line x1="1141.7" y1="289.93" x2="1148.7" y2="289.93" stroke="#000" stroke-width="1.8"/><line x1="1141.7" y1="286.2" x2="1148.7" y2="286.2" stroke="#000" stroke-width="1.8"/><line x1="1141.7" y1="282.9" x2="1148.7" y2="282.9" stroke="#000" stroke-width="1.8"/><line x1="1141.7" y1="279.96" x2="1155.2" y2="279.96" stroke="#000" stroke-width="1.8"/><line x1="1141.7" y1="260.59" x2="1148.7" y2="260.59" stroke="#000" stroke-width="1.8"/><line x1="1141.7" y1="249.25" x2="1148.7" y2="249.25" stroke="#000" stroke-width="1.8"/><line x1="1141.7" y1="241.21" x2="1148.7" y2="241.21" stroke="#000" stroke-width="1.8"/><line x1="1141.7" y1="234.97" x2="1148.7" y2="234.97" stroke="#000" stroke-width="1.8"/><line x1="1141.7" y1="229.88" x2="1148.7" y2="229.88" stroke="#000" stroke-width="1.8"/><line x1="1141.7" y1="225.57" x2="1148.7" y2="225.57" stroke="#000" stroke-width="1.8"/><line x1="1141.7" y1="221.84" x2="1148.7" y2="221.84" stroke="#000" stroke-width="1.8"/><line x1="1141.7" y1="218.54" x2="1148.7" y2="218.54" stroke="#000" stroke-width="1.8"/><line x1="1141.7" y1="215.6" x2="1155.2" y2="215.6" stroke="#000" stroke-width="1.8"/><line x1="1141.7" y1="196.23" x2="1148.7" y2="196.23" stroke="#000" stroke-width="1.8"/><line x1="1141.7" y1="184.89" x2="1148.7" y2="184.89" stroke="#000" stroke-width="1.8"/><line x1="1141.7" y1="176.85" x2="1148.7" y2="176.85" stroke="#000" stroke-width="1.8"/><line x1="1141.7" y1="170.61" x2="1148.7" y2="170.61" stroke="#000" stroke-width="1.8"/><line x1="1141.7" y1="165.52" x2="1148.7" y2="165.52" stroke="#000" stroke-width="1.8"/><line x1="1141.7" y1="161.21" x2="1148.7" y2="161.21" stroke="#000" stroke-width="1.8"/><line x1="1141.7" y1="157.48" x2="1148.7" y2="157.48" stroke="#000" stroke-width="1.8"/><line x1="1141.7" y1="154.18" x2="1148.7" y2="154.18" stroke="#000" stroke-width="1.8"/><line x1="1141.7" y1="151.24" x2="1155.2" y2="151.24" stroke="#000" stroke-width="1.8"/><line x1="1141.7" y1="131.87" x2="1148.7" y2="131.87" stroke="#000" stroke-width="1.8"/><line x1="1141.7" y1="120.53" x2="1148.7" y2="120.53" stroke="#000" stroke-width="1.8"/><line x1="1141.7" y1="112.49" x2="1148.7" y2="112.49" stroke="#000" stroke-width="1.8"/><line x1="1141.7" y1="106.25" x2="1148.7" y2="106.25" stroke="#000" stroke-width="1.8"/><line x1="1141.7" y1="101.16" x2="1148.7" y2="101.16" stroke="#000" stroke-width="1.8"/><line x1="1141.7" y1="96.85" x2="1148.7" y2="96.85" stroke="#000" stroke-width="1.8"/><line x1="1141.7" y1="93.12" x2="1148.7" y2="93.12" stroke="#000" stroke-width="1.8"/><line x1="1141.7" y1="89.82" x2="1148.7" y2="89.82" stroke="#000" stroke-width="1.8"/><line x1="1141.7" y1="86.88" x2="1155.2" y2="86.88" stroke="#000" stroke-width="1.8"/><line x1="1141.7" y1="67.51" x2="1148.7" y2="67.51" stroke="#000" stroke-width="1.8"/><line x1="1141.7" y1="56.17" x2="1148.7" y2="56.17" stroke="#000" stroke-width="1.8"/><line x1="1141.7" y1="48.13" x2="1148.7" y2="48.13" stroke="#000" stroke-width="1.8"/><line x1="1141.7" y1="41.89" x2="1148.7" y2="41.89" stroke="#000" stroke-width="1.8"/><line x1="1141.7" y1="36.8" x2="1148.7" y2="36.8" stroke="#000" stroke-width="1.8"/><line x1="1141.7" y1="32.49" x2="1148.7" y2="32.49" stroke="#000" stroke-width="1.8"/><line x1="1141.7" y1="28.76" x2="1148.7" y2="28.76" stroke="#000" stroke-width="1.8"/><line x1="1141.7" y1="25.46" x2="1148.7" y2="25.46" stroke="#000" stroke-width="1.8"/><line x1="1141.7" y1="22.52" x2="1155.2" y2="22.52" stroke="#000" stroke-width="1.8"/><rect x="1141.7" y="22.3" width="571.3" height="515.1" fill="none" stroke="#000" stroke-width="2.3"/><text x="1142" y="594.5" font-size="44" font-weight="bold" text-anchor="middle">10<tspan dy="-18.48" font-size="28.16">-12</tspan><tspan dy="18.48"> </tspan></text><text x="1284.9" y="594.5" font-size="44" font-weight="bold" text-anchor="middle">10<tspan dy="-18.48" font-size="28.16">-10</tspan><tspan dy="18.48"> </tspan></text><text x="1427.8" y="594.5" font-size="44" font-weight="bold" text-anchor="middle">10<tspan dy="-18.48" font-size="28.16">-8</tspan><tspan dy="18.48"> </tspan></text><text x="1570.7" y="594.5" font-size="44" font-weight="bold" text-anchor="middle">10<tspan dy="-18.48" font-size="28.16">-6</tspan><tspan dy="18.48"> </tspan></text><text x="1713.6" y="594.5" font-size="44" font-weight="bold" text-anchor="middle">10<tspan dy="-18.48" font-size="28.16">-4</tspan><tspan dy="18.48"> </tspan></text><text x="1125.5" y="39.02" font-size="44" font-weight="bold" text-anchor="end">10<tspan dy="-18.48" font-size="28.16">-8</tspan><tspan dy="18.48"> </tspan></text><text x="1125.5" y="167.74" font-size="44" font-weight="bold" text-anchor="end">10<tspan dy="-18.48" font-size="28.16">-10</tspan><tspan dy="18.48"> </tspan></text><text x="1125.5" y="296.46" font-size="44" font-weight="bold" text-anchor="end">10<tspan dy="-18.48" font-size="28.16">-12</tspan><tspan dy="18.48"> </tspan></text><text x="1125.5" y="425.18" font-size="44" font-weight="bold" text-anchor="end">10<tspan dy="-18.48" font-size="28.16">-14</tspan><tspan dy="18.48"> </tspan></text><text x="1125.5" y="553.9" font-size="44" font-weight="bold" text-anchor="end">10<tspan dy="-18.48" font-size="28.16">-16</tspan><tspan dy="18.48"> </tspan></text><text x="1427" y="649.4" font-size="46" font-weight="bold" text-anchor="middle"><tspan font-style="italic">I</tspan><tspan dy="10.12" font-size="31.28">DS</tspan><tspan dy="-10.12"> (A)</tspan></text><text x="1003.5" y="281" font-size="47" font-weight="bold" text-anchor="middle" transform="rotate(-90 1003.5 281)">S<tspan dy="11.52" font-size="31.49" font-weight="normal">I</tspan><tspan dy="-11.52"> (A Hz</tspan><tspan dy="-20.21" font-size="31.49" font-weight="normal">-1/2</tspan><tspan dy="20.21">)</tspan></text><text x="1173" y="79" font-size="43" transform="translate(1173 79) scale(1 1.045) translate(-1173 -79)">WL = 60 μm<tspan dy="-16.34" font-size="26.66">2</tspan><tspan dy="16.34"> </tspan></text><text x="1172.5" y="129.5" font-size="44" transform="translate(1172.5 129.5) scale(1 1.045) translate(-1172.5 -129.5)">B = 10 Hz</text><text x="1405" y="196" font-size="43" transform="rotate(-31 1405 196)">LFN</text><text x="1247" y="401.5" font-size="43" transform="rotate(-35.3 1247 401.5)">Measure accuracy limit</text><text x="1505" y="282.5" font-size="43" transform="rotate(-24 1505 282.5)">Shot noise</text><text x="1450" y="411" font-size="43" transform="rotate(-24.8 1450 411)">Thermal noise</text><text x="1296" y="504" font-size="43" transform="translate(1296 504) scale(1 1.045) translate(-1296 -504)">N<tspan dy="9.46" font-size="29.24">st</tspan><tspan dy="-9.46"> = 4 </tspan><tspan font-size="33.54">×</tspan> 10<tspan dy="-16.34" font-size="26.66">14</tspan><tspan dy="16.34"> cm</tspan><tspan dy="-16.34" font-size="26.66">-2</tspan><tspan dy="16.34">eV</tspan><tspan dy="-16.34" font-size="26.66">-1</tspan><tspan dy="16.34"> </tspan></text><polygon points="173,720 1520.5,720 1520.5,710.5 1557.7,729.5 1520.5,748.5 1520.5,739 173,739" fill="#FAE4D6"/><polygon points="1656.7,1194 1656.7,829.2 1645.5,829.2 1667.1,790.3 1688.7,829.2 1677.5,829.2 1677.5,1194" fill="#DEE8F5"/><polygon points="179.5,1181 181,1170 182.6,1162.9 187.1,1145.7 192.9,1128.6 202,1111.4 213.4,1097.7 227.1,1082.9 250,1066.9 278.6,1053.1 307.1,1041.7 341.4,1031.4 370,1023.4 422.3,1012.2 480,1000 586.3,986 728,973.5 880,961.4 976,956 1100,951 1200,942 1300,929 1360,923 1420,915 1480,908 1540,902 1590,900 1612,899.5 1636,911 1600,912.5 1540,916 1480,923 1420,931 1360,942 1320,949 1300,952 1200,964 1100,972.5 976,982.5 880,990.3 728,1002 586.3,1019 480,1036.6 432,1045.2 370,1056.6 335.7,1072.6 307.1,1084 278.6,1097.7 250,1114.9 227.1,1133.1 204.3,1162.9 191,1181.5 184,1183.5" fill="#06A0FB" stroke="#06A0FB" stroke-width="1.5" stroke-linejoin="round"/><path d="M1560 904 L1614 901.6" fill="none" stroke="#06A0FB" stroke-width="5" stroke-linecap="round"/><path d="M1560 911 L1636 908.6" fill="none" stroke="#06A0FB" stroke-width="4.6" stroke-linecap="round"/><path d="M180 1175 L183 1181 L188 1182" fill="none" stroke="#06A0FB" stroke-width="5" stroke-linecap="round" stroke-linejoin="round"/><path d="M198.6 1131 L207 1123 L215.7 1117.1 L224.9 1110.3 L238.6 1100 L250 1093.1 L272.9 1080.6 L295.7 1070.3 L318.6 1063.4 L341.4 1056.6 L370 1047.4 L400 1040.5" fill="none" stroke="#ffffff" stroke-width="2" stroke-linecap="round" stroke-linejoin="round"/><path d="M196.3 1161.7 L204.3 1150.3 L215.7 1135.4 L224.9 1126.3 L240.9 1111.4" fill="none" stroke="#ffffff" stroke-width="1.2" stroke-linecap="round"/><path d="M197.4 1136.6 L207 1128 L218 1122.9" fill="none" stroke="#ffffff" stroke-width="1" stroke-linecap="round"/><path d="M250 1097.7 L262 1094 L276.3 1091" fill="none" stroke="#ffffff" stroke-width="1" stroke-linecap="round"/><path d="M290 1057 L340 1044 L400 1027 L500 1004 L600 993 L728 982 L880 968.5 L1100 956.4 L1232 943" fill="none" stroke="#ffffff" stroke-width="1.1" stroke-linecap="round" stroke-linejoin="round"/><path d="M354 1039.5 L420 1028 L500 1014 L560 1006" fill="none" stroke="#ffffff" stroke-width="0.9" stroke-linecap="round"/><line x1="159.5" y1="760" x2="1490" y2="760" stroke="#404040" stroke-width="3" stroke-dasharray="17.5 16.1"/><line x1="159.5" y1="835.3" x2="1483" y2="835.3" stroke="#808080" stroke-width="3" stroke-dasharray="17.5 16.1"/><line x1="159.5" y1="909.8" x2="1620" y2="909.8" stroke="#FF0000" stroke-width="3" stroke-dasharray="17.5 16.1"/><path d="M180 1178 L190 1145 L202.7 1121 L226.1 1099.6 L251.3 1082.1 L276.6 1068.5 L305.7 1056.9 L334.9 1049.1 L364 1040.3 L395.1 1033.5 L424.2 1027.7 L455.3 1021.9 L486.4 1016.1 L511.9 1011.8 L543.8 1005.8 L573.9 1001.2 L604 997 L635.9 993 L666 988.8 L696.1 984.5 L726.2 981 L756.3 976.4 L786.5 972.1 L816.6 967.5 L846.7 962.9 L876.8 958 L906.9 954.1 L937 950.5 L968.9 946.3 L999 942 L1029.1 937.4 L1061 932.8 L1091.1 926.8 L1118.3 922 L1146.7 916.7 L1178.6 911.4 L1206.9 904.3 L1235.3 900.8 L1263.6 895.5 L1288.4 889.1 L1313.2 881.3 L1338 874.2 L1369.9 865.4 L1398.2 857.2 L1426.6 848.4 L1454.9 841.6 L1479.7 837 L1511.6 830 L1540 823.9 L1568.3 819.3 L1596.6 815.8" fill="none" stroke="#808080" stroke-width="7.5" stroke-dasharray="11 19" stroke-linecap="round" stroke-linejoin="round"/><path d="M178.5 1181.2 L185.3 1150.1 L198.9 1121 L220.2 1097.7 L243.5 1077.3 L268.8 1058.8 L296 1045.2 L323.2 1031.6 L352.3 1020 L381.5 1011.2 L410.6 1002.5 L439.8 993.7 L470.9 986 L498 979.1 L522.5 972.9 L554.4 964.7 L586.3 958.7 L614.6 953.4 L646.5 948 L676.6 942.7 L706.7 936.4 L736.9 931.4 L767 925.7 L797 919.7 L827.2 913.7 L857.3 907.3 L887.4 902.7 L915.8 897.4 L947.7 892.4 L976 886.8 L1007.9 881.8 L1038 876.5 L1068.1 871.2 L1098.2 865.5 L1121.9 860 L1153.8 854 L1183.9 848.4 L1214 841.6 L1242.3 835.3 L1270.7 829.2 L1300.8 820 L1327.4 810.5 L1355.7 801.6 L1377 793.4 L1401.8 786.4 L1430.1 778.6 L1458.5 772.2 L1486.8 763.7 L1515.1 758 L1543.5 752 L1571.8 746.7 L1603.7 743.1" fill="none" stroke="#404040" stroke-width="7.5" stroke-dasharray="11 19" stroke-linecap="round" stroke-linejoin="round"/><line x1="161.33" y1="1203" x2="161.33" y2="1196.5" stroke="#000" stroke-width="2.8"/><line x1="170.55" y1="1203" x2="170.55" y2="1196.5" stroke="#000" stroke-width="2.8"/><line x1="178.8" y1="1203" x2="178.8" y2="1190.5" stroke="#000" stroke-width="2.8"/><line x1="233.08" y1="1203" x2="233.08" y2="1196.5" stroke="#000" stroke-width="2.8"/><line x1="264.82" y1="1203" x2="264.82" y2="1196.5" stroke="#000" stroke-width="2.8"/><line x1="287.35" y1="1203" x2="287.35" y2="1196.5" stroke="#000" stroke-width="2.8"/><line x1="304.82" y1="1203" x2="304.82" y2="1196.5" stroke="#000" stroke-width="2.8"/><line x1="319.1" y1="1203" x2="319.1" y2="1196.5" stroke="#000" stroke-width="2.8"/><line x1="331.17" y1="1203" x2="331.17" y2="1196.5" stroke="#000" stroke-width="2.8"/><line x1="341.63" y1="1203" x2="341.63" y2="1196.5" stroke="#000" stroke-width="2.8"/><line x1="350.85" y1="1203" x2="350.85" y2="1196.5" stroke="#000" stroke-width="2.8"/><line x1="359.1" y1="1203" x2="359.1" y2="1190.5" stroke="#000" stroke-width="2.8"/><line x1="413.38" y1="1203" x2="413.38" y2="1196.5" stroke="#000" stroke-width="2.8"/><line x1="445.12" y1="1203" x2="445.12" y2="1196.5" stroke="#000" stroke-width="2.8"/><line x1="467.65" y1="1203" x2="467.65" y2="1196.5" stroke="#000" stroke-width="2.8"/><line x1="485.12" y1="1203" x2="485.12" y2="1196.5" stroke="#000" stroke-width="2.8"/><line x1="499.4" y1="1203" x2="499.4" y2="1196.5" stroke="#000" stroke-width="2.8"/><line x1="511.47" y1="1203" x2="511.47" y2="1196.5" stroke="#000" stroke-width="2.8"/><line x1="521.93" y1="1203" x2="521.93" y2="1196.5" stroke="#000" stroke-width="2.8"/><line x1="531.15" y1="1203" x2="531.15" y2="1196.5" stroke="#000" stroke-width="2.8"/><line x1="539.4" y1="1203" x2="539.4" y2="1190.5" stroke="#000" stroke-width="2.8"/><line x1="593.68" y1="1203" x2="593.68" y2="1196.5" stroke="#000" stroke-width="2.8"/><line x1="625.42" y1="1203" x2="625.42" y2="1196.5" stroke="#000" stroke-width="2.8"/><line x1="647.95" y1="1203" x2="647.95" y2="1196.5" stroke="#000" stroke-width="2.8"/><line x1="665.42" y1="1203" x2="665.42" y2="1196.5" stroke="#000" stroke-width="2.8"/><line x1="679.7" y1="1203" x2="679.7" y2="1196.5" stroke="#000" stroke-width="2.8"/><line x1="691.77" y1="1203" x2="691.77" y2="1196.5" stroke="#000" stroke-width="2.8"/><line x1="702.23" y1="1203" x2="702.23" y2="1196.5" stroke="#000" stroke-width="2.8"/><line x1="711.45" y1="1203" x2="711.45" y2="1196.5" stroke="#000" stroke-width="2.8"/><line x1="719.7" y1="1203" x2="719.7" y2="1190.5" stroke="#000" stroke-width="2.8"/><line x1="773.98" y1="1203" x2="773.98" y2="1196.5" stroke="#000" stroke-width="2.8"/><line x1="805.72" y1="1203" x2="805.72" y2="1196.5" stroke="#000" stroke-width="2.8"/><line x1="828.25" y1="1203" x2="828.25" y2="1196.5" stroke="#000" stroke-width="2.8"/><line x1="845.72" y1="1203" x2="845.72" y2="1196.5" stroke="#000" stroke-width="2.8"/><line x1="860" y1="1203" x2="860" y2="1196.5" stroke="#000" stroke-width="2.8"/><line x1="872.07" y1="1203" x2="872.07" y2="1196.5" stroke="#000" stroke-width="2.8"/><line x1="882.53" y1="1203" x2="882.53" y2="1196.5" stroke="#000" stroke-width="2.8"/><line x1="891.75" y1="1203" x2="891.75" y2="1196.5" stroke="#000" stroke-width="2.8"/><line x1="900" y1="1203" x2="900" y2="1190.5" stroke="#000" stroke-width="2.8"/><line x1="954.28" y1="1203" x2="954.28" y2="1196.5" stroke="#000" stroke-width="2.8"/><line x1="986.02" y1="1203" x2="986.02" y2="1196.5" stroke="#000" stroke-width="2.8"/><line x1="1008.55" y1="1203" x2="1008.55" y2="1196.5" stroke="#000" stroke-width="2.8"/><line x1="1026.02" y1="1203" x2="1026.02" y2="1196.5" stroke="#000" stroke-width="2.8"/><line x1="1040.3" y1="1203" x2="1040.3" y2="1196.5" stroke="#000" stroke-width="2.8"/><line x1="1052.37" y1="1203" x2="1052.37" y2="1196.5" stroke="#000" stroke-width="2.8"/><line x1="1062.83" y1="1203" x2="1062.83" y2="1196.5" stroke="#000" stroke-width="2.8"/><line x1="1072.05" y1="1203" x2="1072.05" y2="1196.5" stroke="#000" stroke-width="2.8"/><line x1="1080.3" y1="1203" x2="1080.3" y2="1190.5" stroke="#000" stroke-width="2.8"/><line x1="1134.58" y1="1203" x2="1134.58" y2="1196.5" stroke="#000" stroke-width="2.8"/><line x1="1166.32" y1="1203" x2="1166.32" y2="1196.5" stroke="#000" stroke-width="2.8"/><line x1="1188.85" y1="1203" x2="1188.85" y2="1196.5" stroke="#000" stroke-width="2.8"/><line x1="1206.32" y1="1203" x2="1206.32" y2="1196.5" stroke="#000" stroke-width="2.8"/><line x1="1220.6" y1="1203" x2="1220.6" y2="1196.5" stroke="#000" stroke-width="2.8"/><line x1="1232.67" y1="1203" x2="1232.67" y2="1196.5" stroke="#000" stroke-width="2.8"/><line x1="1243.13" y1="1203" x2="1243.13" y2="1196.5" stroke="#000" stroke-width="2.8"/><line x1="1252.35" y1="1203" x2="1252.35" y2="1196.5" stroke="#000" stroke-width="2.8"/><line x1="1260.6" y1="1203" x2="1260.6" y2="1190.5" stroke="#000" stroke-width="2.8"/><line x1="1314.88" y1="1203" x2="1314.88" y2="1196.5" stroke="#000" stroke-width="2.8"/><line x1="1346.62" y1="1203" x2="1346.62" y2="1196.5" stroke="#000" stroke-width="2.8"/><line x1="1369.15" y1="1203" x2="1369.15" y2="1196.5" stroke="#000" stroke-width="2.8"/><line x1="1386.62" y1="1203" x2="1386.62" y2="1196.5" stroke="#000" stroke-width="2.8"/><line x1="1400.9" y1="1203" x2="1400.9" y2="1196.5" stroke="#000" stroke-width="2.8"/><line x1="1412.97" y1="1203" x2="1412.97" y2="1196.5" stroke="#000" stroke-width="2.8"/><line x1="1423.43" y1="1203" x2="1423.43" y2="1196.5" stroke="#000" stroke-width="2.8"/><line x1="1432.65" y1="1203" x2="1432.65" y2="1196.5" stroke="#000" stroke-width="2.8"/><line x1="1440.9" y1="1203" x2="1440.9" y2="1190.5" stroke="#000" stroke-width="2.8"/><line x1="1495.18" y1="1203" x2="1495.18" y2="1196.5" stroke="#000" stroke-width="2.8"/><line x1="1526.92" y1="1203" x2="1526.92" y2="1196.5" stroke="#000" stroke-width="2.8"/><line x1="1549.45" y1="1203" x2="1549.45" y2="1196.5" stroke="#000" stroke-width="2.8"/><line x1="1566.92" y1="1203" x2="1566.92" y2="1196.5" stroke="#000" stroke-width="2.8"/><line x1="1581.2" y1="1203" x2="1581.2" y2="1196.5" stroke="#000" stroke-width="2.8"/><line x1="1593.27" y1="1203" x2="1593.27" y2="1196.5" stroke="#000" stroke-width="2.8"/><line x1="1603.73" y1="1203" x2="1603.73" y2="1196.5" stroke="#000" stroke-width="2.8"/><line x1="1612.95" y1="1203" x2="1612.95" y2="1196.5" stroke="#000" stroke-width="2.8"/><line x1="1621.2" y1="1203" x2="1621.2" y2="1190.5" stroke="#000" stroke-width="2.8"/><line x1="1675.48" y1="1203" x2="1675.48" y2="1196.5" stroke="#000" stroke-width="2.8"/><line x1="160.8" y1="1198.16" x2="167.3" y2="1198.16" stroke="#000" stroke-width="2.8"/><line x1="160.8" y1="1192.68" x2="167.3" y2="1192.68" stroke="#000" stroke-width="2.8"/><line x1="160.8" y1="1187.93" x2="167.3" y2="1187.93" stroke="#000" stroke-width="2.8"/><line x1="160.8" y1="1183.75" x2="167.3" y2="1183.75" stroke="#000" stroke-width="2.8"/><line x1="160.8" y1="1180" x2="173.3" y2="1180" stroke="#000" stroke-width="2.8"/><line x1="160.8" y1="1155.36" x2="167.3" y2="1155.36" stroke="#000" stroke-width="2.8"/><line x1="160.8" y1="1140.95" x2="167.3" y2="1140.95" stroke="#000" stroke-width="2.8"/><line x1="160.8" y1="1130.72" x2="167.3" y2="1130.72" stroke="#000" stroke-width="2.8"/><line x1="160.8" y1="1122.79" x2="167.3" y2="1122.79" stroke="#000" stroke-width="2.8"/><line x1="160.8" y1="1116.31" x2="167.3" y2="1116.31" stroke="#000" stroke-width="2.8"/><line x1="160.8" y1="1110.83" x2="167.3" y2="1110.83" stroke="#000" stroke-width="2.8"/><line x1="160.8" y1="1106.08" x2="167.3" y2="1106.08" stroke="#000" stroke-width="2.8"/><line x1="160.8" y1="1101.9" x2="167.3" y2="1101.9" stroke="#000" stroke-width="2.8"/><line x1="160.8" y1="1098.15" x2="173.3" y2="1098.15" stroke="#000" stroke-width="2.8"/><line x1="160.8" y1="1073.51" x2="167.3" y2="1073.51" stroke="#000" stroke-width="2.8"/><line x1="160.8" y1="1059.1" x2="167.3" y2="1059.1" stroke="#000" stroke-width="2.8"/><line x1="160.8" y1="1048.87" x2="167.3" y2="1048.87" stroke="#000" stroke-width="2.8"/><line x1="160.8" y1="1040.94" x2="167.3" y2="1040.94" stroke="#000" stroke-width="2.8"/><line x1="160.8" y1="1034.46" x2="167.3" y2="1034.46" stroke="#000" stroke-width="2.8"/><line x1="160.8" y1="1028.98" x2="167.3" y2="1028.98" stroke="#000" stroke-width="2.8"/><line x1="160.8" y1="1024.23" x2="167.3" y2="1024.23" stroke="#000" stroke-width="2.8"/><line x1="160.8" y1="1020.05" x2="167.3" y2="1020.05" stroke="#000" stroke-width="2.8"/><line x1="160.8" y1="1016.3" x2="173.3" y2="1016.3" stroke="#000" stroke-width="2.8"/><line x1="160.8" y1="991.66" x2="167.3" y2="991.66" stroke="#000" stroke-width="2.8"/><line x1="160.8" y1="977.25" x2="167.3" y2="977.25" stroke="#000" stroke-width="2.8"/><line x1="160.8" y1="967.02" x2="167.3" y2="967.02" stroke="#000" stroke-width="2.8"/><line x1="160.8" y1="959.09" x2="167.3" y2="959.09" stroke="#000" stroke-width="2.8"/><line x1="160.8" y1="952.61" x2="167.3" y2="952.61" stroke="#000" stroke-width="2.8"/><line x1="160.8" y1="947.13" x2="167.3" y2="947.13" stroke="#000" stroke-width="2.8"/><line x1="160.8" y1="942.38" x2="167.3" y2="942.38" stroke="#000" stroke-width="2.8"/><line x1="160.8" y1="938.2" x2="167.3" y2="938.2" stroke="#000" stroke-width="2.8"/><line x1="160.8" y1="934.45" x2="173.3" y2="934.45" stroke="#000" stroke-width="2.8"/><line x1="160.8" y1="909.81" x2="167.3" y2="909.81" stroke="#000" stroke-width="2.8"/><line x1="160.8" y1="895.4" x2="167.3" y2="895.4" stroke="#000" stroke-width="2.8"/><line x1="160.8" y1="885.17" x2="167.3" y2="885.17" stroke="#000" stroke-width="2.8"/><line x1="160.8" y1="877.24" x2="167.3" y2="877.24" stroke="#000" stroke-width="2.8"/><line x1="160.8" y1="870.76" x2="167.3" y2="870.76" stroke="#000" stroke-width="2.8"/><line x1="160.8" y1="865.28" x2="167.3" y2="865.28" stroke="#000" stroke-width="2.8"/><line x1="160.8" y1="860.53" x2="167.3" y2="860.53" stroke="#000" stroke-width="2.8"/><line x1="160.8" y1="856.35" x2="167.3" y2="856.35" stroke="#000" stroke-width="2.8"/><line x1="160.8" y1="852.6" x2="173.3" y2="852.6" stroke="#000" stroke-width="2.8"/><line x1="160.8" y1="827.96" x2="167.3" y2="827.96" stroke="#000" stroke-width="2.8"/><line x1="160.8" y1="813.55" x2="167.3" y2="813.55" stroke="#000" stroke-width="2.8"/><line x1="160.8" y1="803.32" x2="167.3" y2="803.32" stroke="#000" stroke-width="2.8"/><line x1="160.8" y1="795.39" x2="167.3" y2="795.39" stroke="#000" stroke-width="2.8"/><line x1="160.8" y1="788.91" x2="167.3" y2="788.91" stroke="#000" stroke-width="2.8"/><line x1="160.8" y1="783.43" x2="167.3" y2="783.43" stroke="#000" stroke-width="2.8"/><line x1="160.8" y1="778.68" x2="167.3" y2="778.68" stroke="#000" stroke-width="2.8"/><line x1="160.8" y1="774.5" x2="167.3" y2="774.5" stroke="#000" stroke-width="2.8"/><line x1="160.8" y1="770.75" x2="173.3" y2="770.75" stroke="#000" stroke-width="2.8"/><line x1="160.8" y1="746.11" x2="167.3" y2="746.11" stroke="#000" stroke-width="2.8"/><line x1="160.8" y1="731.7" x2="167.3" y2="731.7" stroke="#000" stroke-width="2.8"/><line x1="160.8" y1="721.47" x2="167.3" y2="721.47" stroke="#000" stroke-width="2.8"/><line x1="160.8" y1="713.54" x2="167.3" y2="713.54" stroke="#000" stroke-width="2.8"/><line x1="160.8" y1="707.06" x2="167.3" y2="707.06" stroke="#000" stroke-width="2.8"/><line x1="160.8" y1="701.58" x2="167.3" y2="701.58" stroke="#000" stroke-width="2.8"/><line x1="160.8" y1="696.83" x2="167.3" y2="696.83" stroke="#000" stroke-width="2.8"/><line x1="160.8" y1="692.65" x2="167.3" y2="692.65" stroke="#000" stroke-width="2.8"/><rect x="160.8" y="690" width="1545" height="513" fill="none" stroke="#000" stroke-width="3.3"/><text x="359.1" y="1257.7" font-size="41" font-weight="bold" text-anchor="middle">10<tspan dy="-17.22" font-size="28.7">-11</tspan><tspan dy="17.22"> </tspan></text><text x="719.7" y="1257.7" font-size="41" font-weight="bold" text-anchor="middle">10<tspan dy="-17.22" font-size="28.7">-9</tspan><tspan dy="17.22"> </tspan></text><text x="1080.3" y="1257.7" font-size="41" font-weight="bold" text-anchor="middle">10<tspan dy="-17.22" font-size="28.7">-7</tspan><tspan dy="17.22"> </tspan></text><text x="1440.9" y="1257.7" font-size="41" font-weight="bold" text-anchor="middle">10<tspan dy="-17.22" font-size="28.7">-5</tspan><tspan dy="17.22"> </tspan></text><text x="147.5" y="1196.5" font-size="43.5" font-weight="bold" text-anchor="end">10<tspan dy="-17.4" font-size="29.58">0</tspan><tspan dy="17.4"> </tspan></text><text x="147.5" y="1114.65" font-size="43.5" font-weight="bold" text-anchor="end">10<tspan dy="-17.4" font-size="29.58">1</tspan><tspan dy="17.4"> </tspan></text><text x="147.5" y="1032.8" font-size="43.5" font-weight="bold" text-anchor="end">10<tspan dy="-17.4" font-size="29.58">2</tspan><tspan dy="17.4"> </tspan></text><text x="147.5" y="950.95" font-size="43.5" font-weight="bold" text-anchor="end">10<tspan dy="-17.4" font-size="29.58">3</tspan><tspan dy="17.4"> </tspan></text><text x="147.5" y="869.1" font-size="43.5" font-weight="bold" text-anchor="end">10<tspan dy="-17.4" font-size="29.58">4</tspan><tspan dy="17.4"> </tspan></text><text x="147.5" y="787.25" font-size="43.5" font-weight="bold" text-anchor="end">10<tspan dy="-17.4" font-size="29.58">5</tspan><tspan dy="17.4"> </tspan></text><text x="933.5" y="1306.6" font-size="48" font-weight="bold" text-anchor="middle"><tspan font-style="italic">I</tspan><tspan dy="10.56" font-size="32.64">DS</tspan><tspan dy="-10.56"> (A)</tspan></text><text x="51.2" y="941" font-size="46.3" font-weight="bold" text-anchor="middle" transform="rotate(-90 51.2 941)">Maximum state number</text><text x="921.6" y="802" font-size="43.5" transform="translate(921.6 802) scale(1 1.045) translate(-921.6 -802)">17-bit</text><text x="595.5" y="875.5" font-size="43" transform="translate(595.5 875.5) scale(1 1.045) translate(-595.5 -875.5)">14-bit</text><text x="307" y="952" font-size="43" fill="#FF0000" transform="translate(307 952) scale(1 1.045) translate(-307 -952)">11-bit</text><text x="1629.3" y="1012.3" font-size="43.5" transform="translate(1629.3 1012.3) scale(1 1.045) translate(-1629.3 -1012.3)">S<tspan dy="10.44" font-size="29.15">I</tspan><tspan dy="-10.44"> </tspan></text><line x1="1679" y1="982" x2="1679" y2="1004" stroke="#000" stroke-width="3.7"/><polygon points="1672,1002.6 1686,1002.6 1679,1017" fill="#000"/><text x="765.5" y="737" font-size="44.5" transform="translate(765.5 737) scale(1 1.045) translate(-765.5 -737)"><tspan font-style="italic">I</tspan><tspan dy="8.9" font-size="29.82">on</tspan><tspan dy="-8.9"> </tspan></text><line x1="822.3" y1="748.3" x2="822.3" y2="724" stroke="#000" stroke-width="3.7"/><polygon points="815,725.4 829.8,725.4 822.3,710.6" fill="#000"/><text x="1637" y="732.5" font-size="43" text-anchor="middle" transform="translate(1637 732.5) scale(1 1.045) translate(-1637 -732.5)">More</text><text x="1637.5" y="783.9" font-size="43" text-anchor="middle" transform="translate(1637.5 783.9) scale(1 1.045) translate(-1637.5 -783.9)">bits</text><line x1="1081" y1="1009.4" x2="1132" y2="1009.4" stroke="#06A0FB" stroke-width="5"/><text x="1146" y="1028.8" font-size="43" transform="translate(1146 1028.8) scale(1 1.045) translate(-1146 -1028.8)">10 devices (11-bit)</text><line x1="1081" y1="1084.4" x2="1131" y2="1084.4" stroke="#808080" stroke-width="5" stroke-dasharray="6 5"/><line x1="1081" y1="1150.9" x2="1131" y2="1150.9" stroke="#404040" stroke-width="5" stroke-dasharray="6 5"/><text x="1146" y="1097.2" font-size="43" transform="translate(1146 1097.2) scale(1 1.045) translate(-1146 -1097.2)">N<tspan dy="9.46" font-size="29.24">st</tspan><tspan dy="-9.46"> = 4 </tspan><tspan font-size="33.54">×</tspan> 10<tspan dy="-16.34" font-size="26.66">12</tspan><tspan dy="16.34"> cm</tspan><tspan dy="-16.34" font-size="26.66">-2</tspan><tspan dy="16.34"> eV</tspan><tspan dy="-16.34" font-size="26.66">-1</tspan><tspan dy="16.34"> </tspan></text><text x="1146" y="1166.7" font-size="43" transform="translate(1146 1166.7) scale(1 1.045) translate(-1146 -1166.7)">N<tspan dy="9.46" font-size="29.24">st</tspan><tspan dy="-9.46"> = 4 </tspan><tspan font-size="33.54">×</tspan> 10<tspan dy="-16.34" font-size="26.66">10</tspan><tspan dy="16.34"> cm</tspan><tspan dy="-16.34" font-size="26.66">-2</tspan><tspan dy="16.34"> eV</tspan><tspan dy="-16.34" font-size="26.66">-1</tspan><tspan dy="16.34"> </tspan></text><polygon points="1038,1474.4 1038,1417 1028,1417 1048.6,1377.6 1069.6,1417 1059,1417 1059,1474.4" fill="#FAE4D6"/><polygon points="327.4,1734.6 344.1,1763.2 310.7,1763.2" fill="#000" stroke="#000" stroke-width="1.2" stroke-linejoin="round"/><polygon points="317.2,1777.4 347.9,1794 317.2,1810.6" fill="#000" stroke="#000" stroke-width="1.2" stroke-linejoin="round"/><polygon points="361.7,1774.1 378.55,1803.5 344.85,1803.5" fill="#000" stroke="#000" stroke-width="1.2" stroke-linejoin="round"/><rect x="314.7" y="1821.6" width="26" height="26" fill="#000"/><polygon points="362,1817.6 377.72,1829.02 371.72,1847.5 352.28,1847.5 346.28,1829.02" fill="#000" stroke="#000" stroke-width="1.2" stroke-linejoin="round"/><polygon points="509.3,1756.6 479.9,1772.3 509.3,1788" fill="#0A9BF5" stroke="#0A9BF5" stroke-width="1.2" stroke-linejoin="round"/><polygon points="499.2,1781.5 512.76,1791.35 507.58,1807.3 490.82,1807.3 485.64,1791.35" fill="#0A9BF5" stroke="#0A9BF5" stroke-width="1.2" stroke-linejoin="round"/><polygon points="533.5,1774.1 550.45,1803.5 516.55,1803.5" fill="#0A9BF5" stroke="#0A9BF5" stroke-width="1.2" stroke-linejoin="round"/><polygon points="499.3,1815 516.05,1843.7 482.55,1843.7" fill="#0A9BF5" stroke="#0A9BF5" stroke-width="1.2" stroke-linejoin="round"/><polygon points="670.5,1776.1 688.1,1794.2 670.5,1812.3 652.9,1794.2" fill="#9BE03C"/><rect x="658.4" y="1821.6" width="25.2" height="25.2" fill="#9BE03C"/><polygon points="842.6,1374 860.6,1392 842.6,1410 824.6,1392" fill="#EE882E"/><rect x="830" y="1500.2" width="25.2" height="25.2" fill="#EE882E"/><polygon points="842.6,1617.4 856.28,1625.3 856.28,1641.1 842.6,1649 828.92,1641.1 828.92,1625.3" fill="#EE882E"/><polygon points="997.2,1623.6 1031.6,1623.6 1014.4,1653" fill="#F67272" stroke="#F67272" stroke-width="1.2" stroke-linejoin="round"/><polygon points="1048.6,1616.6 1064.58,1628.21 1058.48,1647 1038.72,1647 1032.62,1628.21" fill="#F67272" stroke="#F67272" stroke-width="1.2" stroke-linejoin="round"/><polygon points="997.2,1663.4 1031.6,1663.4 1014.4,1693" fill="#F67272" stroke="#F67272" stroke-width="1.2" stroke-linejoin="round"/><polygon points="997.25,1744 1031.55,1744 1014.4,1773.9" fill="#F67272" stroke="#F67272" stroke-width="1.2" stroke-linejoin="round"/><polygon points="997.25,1784 1031.55,1784 1014.4,1813.9" fill="#F67272" stroke="#F67272" stroke-width="1.2" stroke-linejoin="round"/><polygon points="1048.6,1478 1053.66,1491.53 1068.1,1492.17 1056.79,1501.16 1060.65,1515.08 1048.6,1507.11 1036.55,1515.08 1040.41,1501.16 1029.1,1492.17 1043.54,1491.53" fill="#FF0000" stroke="#FF0000" stroke-width="1" stroke-linejoin="round"/><line x1="158" y1="1392" x2="842.6" y2="1392" stroke="#000" stroke-width="2" stroke-dasharray="11 10"/><line x1="158" y1="1512.2" x2="1049" y2="1512.2" stroke="#000" stroke-width="2" stroke-dasharray="11 10"/><line x1="158" y1="1633.4" x2="1050" y2="1633.4" stroke="#000" stroke-width="2" stroke-dasharray="11 10"/><line x1="158" y1="1676.6" x2="1011" y2="1676.6" stroke="#000" stroke-width="2" stroke-dasharray="11 10"/><line x1="158" y1="1753.4" x2="1010" y2="1753.4" stroke="#000" stroke-width="2" stroke-dasharray="11 10"/><line x1="158" y1="1794.1" x2="1011" y2="1794.1" stroke="#000" stroke-width="2" stroke-dasharray="11 10"/><line x1="158" y1="1834.4" x2="671" y2="1834.4" stroke="#000" stroke-width="2" stroke-dasharray="11 10"/><line x1="156" y1="1860.8" x2="162" y2="1860.8" stroke="#000" stroke-width="2"/><line x1="156" y1="1850.25" x2="162" y2="1850.25" stroke="#000" stroke-width="2"/><line x1="156" y1="1841.33" x2="162" y2="1841.33" stroke="#000" stroke-width="2"/><line x1="156" y1="1833.61" x2="162" y2="1833.61" stroke="#000" stroke-width="2"/><line x1="156" y1="1826.79" x2="162" y2="1826.79" stroke="#000" stroke-width="2"/><line x1="156" y1="1820.7" x2="169.5" y2="1820.7" stroke="#000" stroke-width="2"/><line x1="156" y1="1780.6" x2="162" y2="1780.6" stroke="#000" stroke-width="2"/><line x1="156" y1="1757.15" x2="162" y2="1757.15" stroke="#000" stroke-width="2"/><line x1="156" y1="1740.51" x2="162" y2="1740.51" stroke="#000" stroke-width="2"/><line x1="156" y1="1727.6" x2="162" y2="1727.6" stroke="#000" stroke-width="2"/><line x1="156" y1="1717.05" x2="162" y2="1717.05" stroke="#000" stroke-width="2"/><line x1="156" y1="1708.13" x2="162" y2="1708.13" stroke="#000" stroke-width="2"/><line x1="156" y1="1700.41" x2="162" y2="1700.41" stroke="#000" stroke-width="2"/><line x1="156" y1="1693.59" x2="162" y2="1693.59" stroke="#000" stroke-width="2"/><line x1="156" y1="1687.5" x2="169.5" y2="1687.5" stroke="#000" stroke-width="2"/><line x1="156" y1="1647.4" x2="162" y2="1647.4" stroke="#000" stroke-width="2"/><line x1="156" y1="1623.95" x2="162" y2="1623.95" stroke="#000" stroke-width="2"/><line x1="156" y1="1607.31" x2="162" y2="1607.31" stroke="#000" stroke-width="2"/><line x1="156" y1="1594.4" x2="162" y2="1594.4" stroke="#000" stroke-width="2"/><line x1="156" y1="1583.85" x2="162" y2="1583.85" stroke="#000" stroke-width="2"/><line x1="156" y1="1574.93" x2="162" y2="1574.93" stroke="#000" stroke-width="2"/><line x1="156" y1="1567.21" x2="162" y2="1567.21" stroke="#000" stroke-width="2"/><line x1="156" y1="1560.39" x2="162" y2="1560.39" stroke="#000" stroke-width="2"/><line x1="156" y1="1554.3" x2="169.5" y2="1554.3" stroke="#000" stroke-width="2"/><line x1="156" y1="1514.2" x2="162" y2="1514.2" stroke="#000" stroke-width="2"/><line x1="156" y1="1490.75" x2="162" y2="1490.75" stroke="#000" stroke-width="2"/><line x1="156" y1="1474.11" x2="162" y2="1474.11" stroke="#000" stroke-width="2"/><line x1="156" y1="1461.2" x2="162" y2="1461.2" stroke="#000" stroke-width="2"/><line x1="156" y1="1450.65" x2="162" y2="1450.65" stroke="#000" stroke-width="2"/><line x1="156" y1="1441.73" x2="162" y2="1441.73" stroke="#000" stroke-width="2"/><line x1="156" y1="1434.01" x2="162" y2="1434.01" stroke="#000" stroke-width="2"/><line x1="156" y1="1427.19" x2="162" y2="1427.19" stroke="#000" stroke-width="2"/><line x1="156" y1="1421.1" x2="169.5" y2="1421.1" stroke="#000" stroke-width="2"/><line x1="156" y1="1381" x2="162" y2="1381" stroke="#000" stroke-width="2"/><line x1="156" y1="1357.55" x2="162" y2="1357.55" stroke="#000" stroke-width="2"/><line x1="344.9" y1="1869.8" x2="344.9" y2="1861.8" stroke="#000" stroke-width="2.5"/><line x1="513.8" y1="1869.8" x2="513.8" y2="1861.8" stroke="#000" stroke-width="2.5"/><line x1="670.5" y1="1869.8" x2="670.5" y2="1861.8" stroke="#000" stroke-width="2.5"/><line x1="842.3" y1="1869.8" x2="842.3" y2="1861.8" stroke="#000" stroke-width="2.5"/><line x1="1039" y1="1869.8" x2="1039" y2="1861.8" stroke="#000" stroke-width="2.5"/><rect x="156" y="1356" width="1545.4" height="513.8" fill="none" stroke="#000" stroke-width="2.4"/><text x="141" y="1836.7" font-size="43" font-weight="bold" text-anchor="end">10<tspan dy="-17.63" font-size="30.1">1</tspan><tspan dy="17.63"> </tspan></text><text x="141" y="1703.5" font-size="43" font-weight="bold" text-anchor="end">10<tspan dy="-17.63" font-size="30.1">2</tspan><tspan dy="17.63"> </tspan></text><text x="141" y="1570.3" font-size="43" font-weight="bold" text-anchor="end">10<tspan dy="-17.63" font-size="30.1">3</tspan><tspan dy="17.63"> </tspan></text><text x="141" y="1437.1" font-size="43" font-weight="bold" text-anchor="end">10<tspan dy="-17.63" font-size="30.1">4</tspan><tspan dy="17.63"> </tspan></text><text x="59" y="1612" font-size="46.5" font-weight="bold" text-anchor="middle" transform="rotate(-90 59 1612)">Maximum state number</text><text x="347" y="1909.5" font-size="37.5" font-weight="bold" text-anchor="middle">FeM</text><text x="508" y="1909.5" font-size="37.5" font-weight="bold" text-anchor="middle">PCM</text><text x="665" y="1909.5" font-size="37.5" font-weight="bold" text-anchor="middle">MRAM</text><text x="840" y="1909.5" font-size="37.5" font-weight="bold" text-anchor="middle">RRAM</text><text x="1033" y="1909.5" font-size="37.5" font-weight="bold" text-anchor="middle">FGM</text><text x="178" y="1428.2" font-size="43" transform="translate(178 1428.2) scale(1 1.045) translate(-178 -1428.2)">14-bit</text><text x="181" y="1502" font-size="43" transform="translate(181 1502) scale(1 1.045) translate(-181 -1502)">11-bit</text><text x="190" y="1620" font-size="43" transform="translate(190 1620) scale(1 1.045) translate(-190 -1620)">8-bit</text><text x="185" y="1675" font-size="43" transform="translate(185 1675) scale(1 1.045) translate(-185 -1675)">7-bit</text><text x="181" y="1747" font-size="43" transform="translate(181 1747) scale(1 1.045) translate(-181 -1747)">5-bit</text><text x="181" y="1829" font-size="43" transform="translate(181 1829) scale(1 1.045) translate(-181 -1829)">4-bit</text><text x="181" y="1868" font-size="43" transform="translate(181 1868) scale(1 1.045) translate(-181 -1868)">3-bit</text><text x="970.5" y="1423" font-size="40" text-anchor="middle" transform="translate(970.5 1423) scale(1 1.045) translate(-970.5 -1423)">More</text><text x="970" y="1470" font-size="40" text-anchor="middle" transform="translate(970 1470) scale(1 1.045) translate(-970 -1470)">bits</text><polygon points="1147.7,1393.1 1163.45,1422.3 1131.95,1422.3" fill="#000" stroke="#000" stroke-width="1.2" stroke-linejoin="round"/><polygon points="1132.5,1450.45 1162.3,1464.3 1132.5,1478.15" fill="#000" stroke="#000" stroke-width="1.2" stroke-linejoin="round"/><rect x="1132.9" y="1510.7" width="29.6" height="29.6" fill="#000"/><polygon points="1147.7,1570.4 1163,1581.52 1157.16,1599.5 1138.24,1599.5 1132.4,1581.52" fill="#000" stroke="#000" stroke-width="1.2" stroke-linejoin="round"/><polygon points="1163.4,1630.1 1133,1645.2 1163.4,1660.3" fill="#0A9BF5" stroke="#0A9BF5" stroke-width="1.2" stroke-linejoin="round"/><polygon points="1147.7,1689 1162.68,1699.89 1156.96,1717.5 1138.44,1717.5 1132.72,1699.89" fill="#0A9BF5" stroke="#0A9BF5" stroke-width="1.2" stroke-linejoin="round"/><polygon points="1147.7,1742.8 1163.45,1774.4 1131.95,1774.4" fill="#0A9BF5" stroke="#0A9BF5" stroke-width="1.2" stroke-linejoin="round"/><rect x="1132.85" y="1802.05" width="29.7" height="29.7" fill="#9BE03C"/><polygon points="1434.2,1390.8 1452.2,1409 1434.2,1427.2 1416.2,1409" fill="#9BE03C"/><polygon points="1434.2,1449.3 1452.2,1467.5 1434.2,1485.7 1416.2,1467.5" fill="#EE882E"/><rect x="1419.1" y="1512.1" width="30.2" height="30.2" fill="#EE882E"/><polygon points="1434.2,1569 1448.06,1577 1448.06,1593 1434.2,1601 1420.34,1593 1420.34,1577" fill="#EE882E"/><polygon points="1418.2,1628.7 1450.2,1628.7 1434.2,1658.7" fill="#F67272" stroke="#F67272" stroke-width="1.2" stroke-linejoin="round"/><polygon points="1434.2,1683.6 1449.92,1695.02 1443.92,1713.5 1424.48,1713.5 1418.48,1695.02" fill="#F67272" stroke="#F67272" stroke-width="1.2" stroke-linejoin="round"/><polygon points="1434.2,1735 1439.63,1749.52 1455.12,1750.2 1442.99,1759.86 1447.13,1774.8 1434.2,1766.24 1421.27,1774.8 1425.41,1759.86 1413.28,1750.2 1428.77,1749.52" fill="#FF0000" stroke="#FF0000" stroke-width="1" stroke-linejoin="round"/><text x="1179" y="1422.3" font-size="40" transform="translate(1179 1422.3) scale(1 1.045) translate(-1179 -1422.3)">Hf<tspan dy="10" font-size="24.8">0.5</tspan><tspan dy="-10">Zr</tspan><tspan dy="10" font-size="24.8">0.5</tspan><tspan dy="-10">O</tspan><tspan dy="10" font-size="24.8">2</tspan><tspan dy="-10"> </tspan></text><text x="1177" y="1480.6" font-size="40" transform="translate(1177 1480.6) scale(1 1.045) translate(-1177 -1480.6)">CuInP<tspan dy="10" font-size="24.8">2</tspan><tspan dy="-10">S</tspan><tspan dy="10" font-size="24.8">6</tspan><tspan dy="-10"> </tspan></text><text x="1180" y="1538.8" font-size="40" transform="translate(1180 1538.8) scale(1 1.045) translate(-1180 -1538.8)">HfSiO<tspan dy="10" font-size="24.8">X</tspan><tspan dy="-10"> </tspan></text><text x="1180" y="1598.1" font-size="40" transform="translate(1180 1598.1) scale(1 1.045) translate(-1180 -1598.1)">BiFeO<tspan dy="10" font-size="24.8">3</tspan><tspan dy="-10"> </tspan></text><text x="1183.5" y="1656.9" font-size="40" transform="translate(1183.5 1656.9) scale(1 1.045) translate(-1183.5 -1656.9)">Ge<tspan dy="10" font-size="24.8">1</tspan><tspan dy="-10">Sb</tspan><tspan dy="10" font-size="24.8">4</tspan><tspan dy="-10">Te</tspan><tspan dy="10" font-size="24.8">7</tspan><tspan dy="-10"> </tspan></text><text x="1180" y="1716.1" font-size="40" transform="translate(1180 1716.1) scale(1 1.045) translate(-1180 -1716.1)">SbTeN</text><text x="1180" y="1774.4" font-size="40" transform="translate(1180 1774.4) scale(1 1.045) translate(-1180 -1774.4)">Ge<tspan dy="10" font-size="24.8">2</tspan><tspan dy="-10">Sb</tspan><tspan dy="10" font-size="24.8">2</tspan><tspan dy="-10">Te</tspan><tspan dy="10" font-size="24.8">5</tspan><tspan dy="-10"> </tspan></text><text x="1186.5" y="1830.2" font-size="40" transform="translate(1186.5 1830.2) scale(1 1.045) translate(-1186.5 -1830.2)">PMN-PT/Terfenol-D</text><text x="1460.5" y="1423.2" font-size="40" transform="translate(1460.5 1423.2) scale(1 1.045) translate(-1460.5 -1423.2)">Co/Ni/PtMn</text><text x="1460.5" y="1481.5" font-size="40" transform="translate(1460.5 1481.5) scale(1 1.045) translate(-1460.5 -1481.5)">Molecular</text><text x="1462.5" y="1537.9" font-size="40" transform="translate(1462.5 1537.9) scale(1 1.045) translate(-1462.5 -1537.9)">HfO<tspan dy="10" font-size="24.8">2</tspan><tspan dy="-10">/Al</tspan><tspan dy="10" font-size="24.8">2</tspan><tspan dy="-10">O</tspan><tspan dy="10" font-size="24.8">3</tspan><tspan dy="-10"> </tspan></text><text x="1462.5" y="1596.1" font-size="40" transform="translate(1462.5 1596.1) scale(1 1.045) translate(-1462.5 -1596.1)">In<tspan dy="10" font-size="24.8">2</tspan><tspan dy="-10">P</tspan><tspan dy="10" font-size="24.8">3</tspan><tspan dy="-10">S</tspan><tspan dy="10" font-size="24.8">9</tspan><tspan dy="-10"> </tspan></text><text x="1462.5" y="1655.4" font-size="40" transform="translate(1462.5 1655.4) scale(1 1.045) translate(-1462.5 -1655.4)">Silicon</text><text x="1460.5" y="1712.7" font-size="40" transform="translate(1460.5 1712.7) scale(1 1.045) translate(-1460.5 -1712.7)">2D FGMs</text><text x="1462.5" y="1769.5" font-size="40" transform="translate(1462.5 1769.5) scale(1 1.045) translate(-1462.5 -1769.5)">This work</text></svg></body></html>
